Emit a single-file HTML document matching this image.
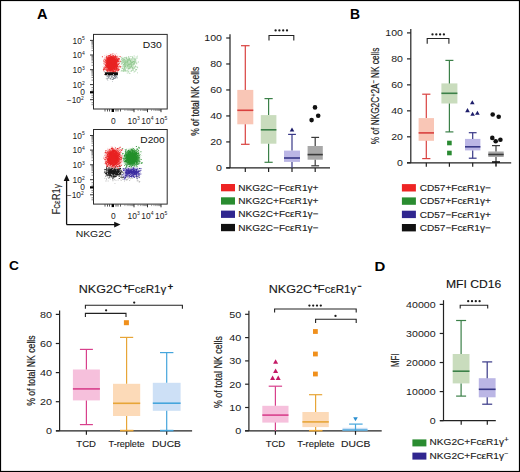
<!DOCTYPE html>
<html><head><meta charset="utf-8"><style>
html,body{margin:0;padding:0;background:#fff;}
body{width:520px;height:472px;overflow:hidden;}
svg{display:block;font-family:"Liberation Sans", sans-serif;}
</style></head><body>
<svg width="520" height="472" viewBox="0 0 520 472">
<defs><filter id="bl" x="-50%" y="-50%" width="200%" height="200%"><feGaussianBlur stdDeviation="1.3"/></filter>
<filter id="sp" x="-50%" y="-50%" width="200%" height="200%"><feTurbulence type="fractalNoise" baseFrequency="1.1" numOctaves="1" seed="3" result="n"/><feGaussianBlur in="SourceGraphic" stdDeviation="1.1" result="b"/><feDisplacementMap in="b" in2="n" scale="5" xChannelSelector="R" yChannelSelector="G"/></filter>
<filter id="sp2" x="-50%" y="-50%" width="200%" height="200%"><feTurbulence type="fractalNoise" baseFrequency="1.1" numOctaves="1" seed="5" result="n"/><feGaussianBlur in="SourceGraphic" stdDeviation="0.5" result="b"/><feDisplacementMap in="b" in2="n" scale="2" xChannelSelector="R" yChannelSelector="G"/></filter></defs>
<rect x="0" y="0" width="520" height="472" fill="#fff"/>
<text x="37.03" y="19.2" font-size="14.5" font-weight="bold" fill="#000" textLength="10.56" lengthAdjust="spacingAndGlyphs" >A</text>
<text x="349.99" y="19.1" font-size="14" font-weight="bold" fill="#000" textLength="10.06" lengthAdjust="spacingAndGlyphs" >B</text>
<text x="8.95" y="270.0" font-size="13.3" font-weight="bold" fill="#000" textLength="9.92" lengthAdjust="spacingAndGlyphs" >C</text>
<text x="374.43" y="270.5" font-size="13.5" font-weight="bold" fill="#000" textLength="10.80" lengthAdjust="spacingAndGlyphs" >D</text>
<g filter="url(#sp)">
<rect x="105" y="55.0" width="13.8" height="17.2" rx="6" fill="#e82222"/>
<rect x="123" y="59" width="11.5" height="10" rx="4" fill="#b5dcb0" opacity="0.7"/>
</g>
<path d="M127.2 59.2h0.9v0.9h-0.9zM129.3 64.4h0.9v0.9h-0.9zM121.7 58.4h0.9v0.9h-0.9zM128.1 59.7h0.9v0.9h-0.9zM132.2 62.1h0.9v0.9h-0.9zM138.0 61.6h0.9v0.9h-0.9zM124.3 69.0h0.9v0.9h-0.9zM123.0 61.5h0.9v0.9h-0.9zM130.0 60.0h0.9v0.9h-0.9zM130.9 65.6h0.9v0.9h-0.9zM127.8 68.5h0.9v0.9h-0.9zM124.1 68.7h0.9v0.9h-0.9zM131.8 61.4h0.9v0.9h-0.9zM127.8 63.3h0.9v0.9h-0.9zM121.3 63.5h0.9v0.9h-0.9zM134.0 66.7h0.9v0.9h-0.9zM128.4 70.7h0.9v0.9h-0.9zM128.4 66.5h0.9v0.9h-0.9zM133.1 60.9h0.9v0.9h-0.9zM127.2 63.3h0.9v0.9h-0.9zM124.3 68.0h0.9v0.9h-0.9zM123.5 70.2h0.9v0.9h-0.9zM121.5 69.8h0.9v0.9h-0.9zM134.3 62.2h0.9v0.9h-0.9zM128.8 57.4h0.9v0.9h-0.9zM124.2 64.5h0.9v0.9h-0.9zM130.3 63.0h0.9v0.9h-0.9zM124.8 65.7h0.9v0.9h-0.9zM128.1 56.7h0.9v0.9h-0.9zM135.4 66.2h0.9v0.9h-0.9zM127.0 66.2h0.9v0.9h-0.9zM123.1 59.6h0.9v0.9h-0.9zM126.6 59.1h0.9v0.9h-0.9zM122.9 69.4h0.9v0.9h-0.9zM131.2 62.5h0.9v0.9h-0.9zM128.4 72.3h0.9v0.9h-0.9zM128.1 58.5h0.9v0.9h-0.9zM126.5 61.1h0.9v0.9h-0.9zM123.0 58.7h0.9v0.9h-0.9zM130.9 70.9h0.9v0.9h-0.9zM134.2 61.4h0.9v0.9h-0.9zM124.2 66.7h0.9v0.9h-0.9zM126.8 72.6h0.9v0.9h-0.9zM134.9 65.6h0.9v0.9h-0.9zM124.0 57.3h0.9v0.9h-0.9zM121.8 67.5h0.9v0.9h-0.9zM133.6 71.6h0.9v0.9h-0.9zM135.4 60.7h0.9v0.9h-0.9zM124.8 70.9h0.9v0.9h-0.9zM132.7 68.4h0.9v0.9h-0.9zM121.6 66.1h0.9v0.9h-0.9zM132.1 68.1h0.9v0.9h-0.9zM127.3 60.0h0.9v0.9h-0.9zM129.0 58.9h0.9v0.9h-0.9zM124.7 70.1h0.9v0.9h-0.9zM125.0 63.7h0.9v0.9h-0.9zM126.3 57.0h0.9v0.9h-0.9zM135.3 69.1h0.9v0.9h-0.9zM129.3 58.6h0.9v0.9h-0.9zM125.1 65.9h0.9v0.9h-0.9zM124.9 70.0h0.9v0.9h-0.9zM125.5 70.0h0.9v0.9h-0.9zM128.8 63.9h0.9v0.9h-0.9zM130.4 59.7h0.9v0.9h-0.9zM121.7 63.0h0.9v0.9h-0.9zM131.5 63.9h0.9v0.9h-0.9zM129.9 64.4h0.9v0.9h-0.9zM124.9 65.8h0.9v0.9h-0.9zM130.1 61.0h0.9v0.9h-0.9zM129.5 66.7h0.9v0.9h-0.9zM127.2 69.9h0.9v0.9h-0.9zM133.7 59.0h0.9v0.9h-0.9zM131.7 58.3h0.9v0.9h-0.9zM123.0 60.5h0.9v0.9h-0.9zM121.7 68.0h0.9v0.9h-0.9zM123.5 57.6h0.9v0.9h-0.9zM135.4 70.2h0.9v0.9h-0.9zM124.5 68.9h0.9v0.9h-0.9zM122.8 62.2h0.9v0.9h-0.9zM123.8 58.7h0.9v0.9h-0.9zM129.6 61.7h0.9v0.9h-0.9zM130.5 70.8h0.9v0.9h-0.9zM133.8 60.6h0.9v0.9h-0.9zM122.2 58.0h0.9v0.9h-0.9zM129.4 59.6h0.9v0.9h-0.9zM124.9 66.2h0.9v0.9h-0.9zM124.3 63.5h0.9v0.9h-0.9zM123.9 67.7h0.9v0.9h-0.9zM123.0 68.8h0.9v0.9h-0.9zM127.6 71.0h0.9v0.9h-0.9zM126.4 61.2h0.9v0.9h-0.9zM123.3 60.1h0.9v0.9h-0.9zM125.6 62.6h0.9v0.9h-0.9zM129.4 58.1h0.9v0.9h-0.9zM126.9 64.9h0.9v0.9h-0.9zM122.0 58.9h0.9v0.9h-0.9zM132.7 69.2h0.9v0.9h-0.9zM125.9 70.7h0.9v0.9h-0.9zM127.4 64.5h0.9v0.9h-0.9zM127.4 59.1h0.9v0.9h-0.9zM122.5 58.5h0.9v0.9h-0.9zM123.9 64.7h0.9v0.9h-0.9zM125.8 64.3h0.9v0.9h-0.9zM123.1 70.7h0.9v0.9h-0.9zM135.4 70.3h0.9v0.9h-0.9zM126.1 62.4h0.9v0.9h-0.9zM127.9 64.1h0.9v0.9h-0.9zM121.5 63.0h0.9v0.9h-0.9zM123.0 60.4h0.9v0.9h-0.9zM128.6 65.9h0.9v0.9h-0.9zM133.0 60.9h0.9v0.9h-0.9zM137.2 67.3h0.9v0.9h-0.9zM123.2 64.0h0.9v0.9h-0.9zM132.7 63.8h0.9v0.9h-0.9zM130.0 67.0h0.9v0.9h-0.9zM131.4 65.8h0.9v0.9h-0.9zM125.5 62.2h0.9v0.9h-0.9zM123.7 64.7h0.9v0.9h-0.9zM130.4 56.0h0.9v0.9h-0.9zM133.5 63.3h0.9v0.9h-0.9zM132.9 61.2h0.9v0.9h-0.9zM122.5 61.5h0.9v0.9h-0.9zM133.8 62.2h0.9v0.9h-0.9zM128.0 64.1h0.9v0.9h-0.9zM131.6 60.8h0.9v0.9h-0.9zM132.2 58.4h0.9v0.9h-0.9zM122.2 68.2h0.9v0.9h-0.9zM131.3 64.7h0.9v0.9h-0.9zM130.1 61.2h0.9v0.9h-0.9zM136.3 63.4h0.9v0.9h-0.9zM134.9 60.5h0.9v0.9h-0.9zM125.3 64.9h0.9v0.9h-0.9zM121.2 58.5h0.9v0.9h-0.9zM131.7 66.7h0.9v0.9h-0.9zM125.9 56.7h0.9v0.9h-0.9zM120.5 61.3h0.9v0.9h-0.9zM123.1 69.5h0.9v0.9h-0.9zM121.5 56.8h0.9v0.9h-0.9zM134.9 59.0h0.9v0.9h-0.9zM124.2 67.5h0.9v0.9h-0.9zM126.2 58.0h0.9v0.9h-0.9zM123.4 69.4h0.9v0.9h-0.9zM125.1 60.8h0.9v0.9h-0.9zM129.1 67.8h0.9v0.9h-0.9zM133.0 63.5h0.9v0.9h-0.9zM133.8 63.8h0.9v0.9h-0.9zM132.3 57.0h0.9v0.9h-0.9zM136.2 62.6h0.9v0.9h-0.9zM125.8 57.9h0.9v0.9h-0.9zM130.9 63.7h0.9v0.9h-0.9zM124.4 70.3h0.9v0.9h-0.9zM129.4 73.1h0.9v0.9h-0.9zM128.7 58.8h0.9v0.9h-0.9zM127.3 61.0h0.9v0.9h-0.9zM131.3 61.7h0.9v0.9h-0.9zM126.7 61.6h0.9v0.9h-0.9zM122.0 61.3h0.9v0.9h-0.9zM127.7 58.6h0.9v0.9h-0.9zM125.6 64.3h0.9v0.9h-0.9zM137.0 55.7h0.9v0.9h-0.9zM121.4 61.6h0.9v0.9h-0.9zM131.3 70.0h0.9v0.9h-0.9zM135.5 58.4h0.9v0.9h-0.9zM123.8 67.6h0.9v0.9h-0.9zM135.4 66.3h0.9v0.9h-0.9zM128.1 67.9h0.9v0.9h-0.9zM126.3 60.6h0.9v0.9h-0.9zM123.4 68.2h0.9v0.9h-0.9zM124.3 65.7h0.9v0.9h-0.9zM127.5 58.5h0.9v0.9h-0.9zM123.6 66.6h0.9v0.9h-0.9zM134.0 60.6h0.9v0.9h-0.9zM135.7 56.5h0.9v0.9h-0.9zM128.5 59.7h0.9v0.9h-0.9zM132.1 57.2h0.9v0.9h-0.9zM125.2 60.5h0.9v0.9h-0.9zM133.4 58.7h0.9v0.9h-0.9zM135.3 61.9h0.9v0.9h-0.9zM124.9 69.5h0.9v0.9h-0.9zM129.2 63.5h0.9v0.9h-0.9zM132.0 62.3h0.9v0.9h-0.9zM125.2 57.6h0.9v0.9h-0.9zM120.7 70.7h0.9v0.9h-0.9zM134.8 61.6h0.9v0.9h-0.9zM125.8 56.8h0.9v0.9h-0.9zM130.8 62.3h0.9v0.9h-0.9zM124.8 61.9h0.9v0.9h-0.9zM137.7 61.7h0.9v0.9h-0.9zM127.7 61.4h0.9v0.9h-0.9zM121.3 70.0h0.9v0.9h-0.9zM123.0 59.0h0.9v0.9h-0.9zM128.3 56.0h0.9v0.9h-0.9zM124.1 61.5h0.9v0.9h-0.9zM133.4 60.3h0.9v0.9h-0.9zM135.3 66.5h0.9v0.9h-0.9zM126.2 67.7h0.9v0.9h-0.9zM133.7 55.6h0.9v0.9h-0.9zM122.5 70.7h0.9v0.9h-0.9zM127.3 65.0h0.9v0.9h-0.9zM136.2 69.0h0.9v0.9h-0.9zM134.0 60.2h0.9v0.9h-0.9zM125.2 59.4h0.9v0.9h-0.9zM124.5 57.2h0.9v0.9h-0.9zM121.2 70.4h0.9v0.9h-0.9zM135.5 58.1h0.9v0.9h-0.9zM121.4 63.3h0.9v0.9h-0.9zM123.8 67.1h0.9v0.9h-0.9zM133.6 57.5h0.9v0.9h-0.9zM133.8 63.5h0.9v0.9h-0.9zM132.8 61.2h0.9v0.9h-0.9zM124.8 60.7h0.9v0.9h-0.9zM128.6 60.2h0.9v0.9h-0.9zM131.9 55.9h0.9v0.9h-0.9zM129.4 68.1h0.9v0.9h-0.9zM122.0 60.1h0.9v0.9h-0.9zM134.1 61.1h0.9v0.9h-0.9zM133.8 68.1h0.9v0.9h-0.9zM136.7 66.5h0.9v0.9h-0.9zM124.4 60.3h0.9v0.9h-0.9zM124.1 59.0h0.9v0.9h-0.9zM121.0 60.9h0.9v0.9h-0.9zM126.7 66.4h0.9v0.9h-0.9zM123.3 65.3h0.9v0.9h-0.9zM131.6 67.1h0.9v0.9h-0.9zM127.5 71.2h0.9v0.9h-0.9zM125.3 62.4h0.9v0.9h-0.9zM135.4 59.7h0.9v0.9h-0.9zM132.5 69.7h0.9v0.9h-0.9zM128.3 68.4h0.9v0.9h-0.9zM128.5 64.9h0.9v0.9h-0.9zM131.5 65.5h0.9v0.9h-0.9zM126.5 61.0h0.9v0.9h-0.9zM129.7 63.7h0.9v0.9h-0.9zM134.2 58.6h0.9v0.9h-0.9zM136.8 57.6h0.9v0.9h-0.9zM133.7 67.1h0.9v0.9h-0.9zM134.8 61.6h0.9v0.9h-0.9zM128.6 58.0h0.9v0.9h-0.9zM123.8 63.1h0.9v0.9h-0.9zM123.4 71.2h0.9v0.9h-0.9zM120.6 56.9h0.9v0.9h-0.9zM135.1 65.6h0.9v0.9h-0.9zM130.5 66.1h0.9v0.9h-0.9zM127.3 62.2h0.9v0.9h-0.9zM121.0 59.5h0.9v0.9h-0.9zM133.2 58.4h0.9v0.9h-0.9zM129.0 63.4h0.9v0.9h-0.9zM121.8 58.0h0.9v0.9h-0.9zM132.5 68.7h0.9v0.9h-0.9zM130.3 62.7h0.9v0.9h-0.9zM137.1 72.4h0.9v0.9h-0.9zM132.7 70.1h0.9v0.9h-0.9zM131.0 58.7h0.9v0.9h-0.9zM133.7 61.8h0.9v0.9h-0.9zM134.0 62.6h0.9v0.9h-0.9zM134.5 70.8h0.9v0.9h-0.9zM124.5 62.7h0.9v0.9h-0.9zM122.3 70.6h0.9v0.9h-0.9zM132.2 67.6h0.9v0.9h-0.9zM121.8 61.8h0.9v0.9h-0.9z" fill="#5fae5f" opacity="0.55"/>
<path d="M116.3 69.9h0.9v0.9h-0.9zM107.0 61.5h0.9v0.9h-0.9zM116.1 67.9h0.9v0.9h-0.9zM109.7 56.6h0.9v0.9h-0.9zM117.3 59.6h0.9v0.9h-0.9zM115.2 66.3h0.9v0.9h-0.9zM109.1 57.2h0.9v0.9h-0.9zM112.5 71.1h0.9v0.9h-0.9zM106.3 56.3h0.9v0.9h-0.9zM103.7 61.3h0.9v0.9h-0.9zM106.3 57.5h0.9v0.9h-0.9zM113.1 71.4h0.9v0.9h-0.9zM108.0 66.3h0.9v0.9h-0.9zM117.7 58.3h0.9v0.9h-0.9zM103.4 59.8h0.9v0.9h-0.9zM111.8 68.5h0.9v0.9h-0.9zM108.1 63.9h0.9v0.9h-0.9zM110.3 68.9h0.9v0.9h-0.9zM101.9 56.3h0.9v0.9h-0.9zM106.2 65.3h0.9v0.9h-0.9zM117.0 60.7h0.9v0.9h-0.9zM106.1 66.3h0.9v0.9h-0.9zM105.0 61.5h0.9v0.9h-0.9zM114.8 56.6h0.9v0.9h-0.9zM108.5 68.2h0.9v0.9h-0.9zM115.7 58.0h0.9v0.9h-0.9zM111.0 64.6h0.9v0.9h-0.9zM106.5 56.4h0.9v0.9h-0.9zM118.4 58.8h0.9v0.9h-0.9zM117.1 59.8h0.9v0.9h-0.9zM117.3 71.5h0.9v0.9h-0.9zM113.3 70.7h0.9v0.9h-0.9zM112.1 68.6h0.9v0.9h-0.9zM110.6 58.8h0.9v0.9h-0.9zM107.0 70.6h0.9v0.9h-0.9zM106.7 71.3h0.9v0.9h-0.9zM109.5 55.4h0.9v0.9h-0.9zM113.7 66.6h0.9v0.9h-0.9zM104.2 68.7h0.9v0.9h-0.9zM117.0 69.9h0.9v0.9h-0.9zM118.6 58.0h0.9v0.9h-0.9zM107.6 69.5h0.9v0.9h-0.9zM114.5 58.4h0.9v0.9h-0.9zM106.9 59.2h0.9v0.9h-0.9zM108.8 59.2h0.9v0.9h-0.9zM108.2 59.3h0.9v0.9h-0.9zM117.0 65.6h0.9v0.9h-0.9zM103.6 69.0h0.9v0.9h-0.9zM109.0 57.2h0.9v0.9h-0.9zM118.9 58.6h0.9v0.9h-0.9zM104.5 73.7h0.9v0.9h-0.9zM102.9 68.9h0.9v0.9h-0.9zM105.9 69.5h0.9v0.9h-0.9zM108.8 58.1h0.9v0.9h-0.9zM114.4 66.0h0.9v0.9h-0.9zM105.6 67.2h0.9v0.9h-0.9zM113.1 62.4h0.9v0.9h-0.9zM119.6 56.0h0.9v0.9h-0.9zM107.0 65.7h0.9v0.9h-0.9zM110.4 62.3h0.9v0.9h-0.9zM112.3 64.5h0.9v0.9h-0.9zM109.1 70.2h0.9v0.9h-0.9zM114.2 61.8h0.9v0.9h-0.9zM115.5 62.6h0.9v0.9h-0.9zM117.8 60.6h0.9v0.9h-0.9zM115.2 56.8h0.9v0.9h-0.9zM107.3 58.5h0.9v0.9h-0.9zM110.1 70.1h0.9v0.9h-0.9zM106.0 61.3h0.9v0.9h-0.9zM119.7 60.8h0.9v0.9h-0.9zM106.7 57.9h0.9v0.9h-0.9zM111.0 69.0h0.9v0.9h-0.9zM113.3 62.8h0.9v0.9h-0.9zM105.4 67.2h0.9v0.9h-0.9zM116.9 68.5h0.9v0.9h-0.9zM110.7 71.9h0.9v0.9h-0.9zM115.4 64.9h0.9v0.9h-0.9zM113.1 66.1h0.9v0.9h-0.9zM104.0 68.2h0.9v0.9h-0.9zM113.8 63.7h0.9v0.9h-0.9zM112.4 72.1h0.9v0.9h-0.9zM105.9 60.1h0.9v0.9h-0.9zM111.9 64.2h0.9v0.9h-0.9zM107.0 61.5h0.9v0.9h-0.9zM104.5 66.8h0.9v0.9h-0.9zM110.7 62.4h0.9v0.9h-0.9zM111.0 66.6h0.9v0.9h-0.9zM110.1 71.7h0.9v0.9h-0.9zM110.3 62.0h0.9v0.9h-0.9zM103.3 67.6h0.9v0.9h-0.9zM109.4 68.6h0.9v0.9h-0.9zM117.9 68.8h0.9v0.9h-0.9zM110.2 69.0h0.9v0.9h-0.9zM115.8 63.8h0.9v0.9h-0.9zM108.4 65.8h0.9v0.9h-0.9zM117.1 58.8h0.9v0.9h-0.9zM113.8 62.2h0.9v0.9h-0.9zM117.1 60.0h0.9v0.9h-0.9zM110.6 67.6h0.9v0.9h-0.9zM108.4 64.0h0.9v0.9h-0.9zM109.7 59.9h0.9v0.9h-0.9zM118.6 69.1h0.9v0.9h-0.9zM118.2 68.9h0.9v0.9h-0.9zM114.0 71.6h0.9v0.9h-0.9zM114.2 57.5h0.9v0.9h-0.9zM107.8 56.3h0.9v0.9h-0.9zM118.2 70.0h0.9v0.9h-0.9zM113.7 69.1h0.9v0.9h-0.9zM116.6 66.4h0.9v0.9h-0.9zM112.2 69.3h0.9v0.9h-0.9zM112.5 57.7h0.9v0.9h-0.9zM112.7 57.5h0.9v0.9h-0.9zM110.4 70.0h0.9v0.9h-0.9zM104.7 63.7h0.9v0.9h-0.9zM114.8 61.2h0.9v0.9h-0.9zM120.2 66.6h0.9v0.9h-0.9zM103.3 70.3h0.9v0.9h-0.9zM110.3 63.1h0.9v0.9h-0.9zM119.5 66.1h0.9v0.9h-0.9zM109.9 62.3h0.9v0.9h-0.9z" fill="#e82222" opacity="1.0"/>
<path d="M111.9 75.8h0.7v0.7h-0.7zM109.1 75.3h0.7v0.7h-0.7zM114.2 76.3h0.7v0.7h-0.7zM112.9 77.9h0.7v0.7h-0.7zM109.3 77.8h0.7v0.7h-0.7zM113.0 77.5h0.7v0.7h-0.7zM115.5 75.8h0.7v0.7h-0.7zM106.8 79.1h0.7v0.7h-0.7zM113.7 75.3h0.7v0.7h-0.7zM111.8 76.2h0.7v0.7h-0.7zM113.8 77.9h0.7v0.7h-0.7zM114.8 75.0h0.7v0.7h-0.7zM115.6 75.5h0.7v0.7h-0.7zM115.3 74.5h0.7v0.7h-0.7zM108.6 76.8h0.7v0.7h-0.7zM113.3 76.9h0.7v0.7h-0.7zM107.6 78.2h0.7v0.7h-0.7zM116.0 76.3h0.7v0.7h-0.7zM114.9 75.7h0.7v0.7h-0.7zM111.6 76.2h0.7v0.7h-0.7zM107.8 77.6h0.7v0.7h-0.7zM107.7 78.3h0.7v0.7h-0.7zM108.8 75.8h0.7v0.7h-0.7zM114.2 78.2h0.7v0.7h-0.7zM114.7 73.7h0.7v0.7h-0.7zM112.7 77.7h0.7v0.7h-0.7zM110.2 74.2h0.7v0.7h-0.7zM105.2 73.5h0.7v0.7h-0.7zM109.4 77.8h0.7v0.7h-0.7zM112.2 77.4h0.7v0.7h-0.7zM110.6 77.6h0.7v0.7h-0.7zM109.2 75.4h0.7v0.7h-0.7zM110.7 75.9h0.7v0.7h-0.7zM112.2 79.2h0.7v0.7h-0.7zM114.1 76.5h0.7v0.7h-0.7zM117.3 74.8h0.7v0.7h-0.7zM111.4 77.0h0.7v0.7h-0.7zM113.9 74.8h0.7v0.7h-0.7zM105.9 78.1h0.7v0.7h-0.7zM115.2 78.1h0.7v0.7h-0.7zM115.7 74.9h0.7v0.7h-0.7zM115.8 77.3h0.7v0.7h-0.7zM110.8 78.7h0.7v0.7h-0.7zM108.2 73.5h0.7v0.7h-0.7zM112.2 74.5h0.7v0.7h-0.7zM108.8 75.0h0.7v0.7h-0.7zM107.5 74.1h0.7v0.7h-0.7zM113.9 75.7h0.7v0.7h-0.7zM110.7 75.1h0.7v0.7h-0.7zM107.7 76.2h0.7v0.7h-0.7zM109.9 74.6h0.7v0.7h-0.7zM116.7 77.7h0.7v0.7h-0.7zM115.3 77.1h0.7v0.7h-0.7zM111.9 79.0h0.7v0.7h-0.7zM114.4 75.8h0.7v0.7h-0.7zM112.6 78.9h0.7v0.7h-0.7zM115.7 74.5h0.7v0.7h-0.7zM108.4 75.1h0.7v0.7h-0.7zM112.8 78.0h0.7v0.7h-0.7zM117.1 76.8h0.7v0.7h-0.7zM108.0 76.9h0.7v0.7h-0.7zM114.3 75.9h0.7v0.7h-0.7zM112.2 80.9h0.7v0.7h-0.7zM109.1 76.3h0.7v0.7h-0.7zM117.3 73.7h0.7v0.7h-0.7zM114.3 77.7h0.7v0.7h-0.7zM107.5 79.9h0.7v0.7h-0.7zM113.1 79.1h0.7v0.7h-0.7zM106.8 75.7h0.7v0.7h-0.7zM111.6 75.7h0.7v0.7h-0.7zM114.9 75.5h0.7v0.7h-0.7zM107.0 78.4h0.7v0.7h-0.7zM115.9 76.2h0.7v0.7h-0.7zM108.6 76.6h0.7v0.7h-0.7zM110.1 78.1h0.7v0.7h-0.7zM113.3 75.3h0.7v0.7h-0.7zM113.4 78.3h0.7v0.7h-0.7zM108.5 76.0h0.7v0.7h-0.7zM115.0 77.2h0.7v0.7h-0.7zM109.9 78.7h0.7v0.7h-0.7zM107.7 74.6h0.7v0.7h-0.7zM111.1 76.1h0.7v0.7h-0.7zM113.2 78.5h0.7v0.7h-0.7zM106.6 76.6h0.7v0.7h-0.7zM113.3 77.0h0.7v0.7h-0.7zM114.6 74.9h0.7v0.7h-0.7zM114.6 76.4h0.7v0.7h-0.7zM116.3 76.3h0.7v0.7h-0.7zM108.2 74.0h0.7v0.7h-0.7zM107.9 77.4h0.7v0.7h-0.7z" fill="#1a2a3a" opacity="0.6"/>
<g filter="url(#sp2)"><rect x="104.5" y="72.2" width="13.5" height="3.0" rx="1" fill="#0a0a0a"/></g>
<rect x="93.5" y="34.4" width="73.69999999999999" height="74.6" fill="none" stroke="#2a2a2a" stroke-width="1.0"/>
<line x1="90.0" y1="40.4" x2="93.5" y2="40.4" stroke="#333" stroke-width="1.0"/>
<text x="72.6" y="43.5" font-size="8.4" fill="#222">10<tspan dy="-3.2" font-size="5">5</tspan></text>
<line x1="90.0" y1="55.0" x2="93.5" y2="55.0" stroke="#333" stroke-width="1.0"/>
<text x="72.6" y="58.099999999999994" font-size="8.4" fill="#222">10<tspan dy="-3.2" font-size="5">4</tspan></text>
<line x1="90.0" y1="69.69999999999999" x2="93.5" y2="69.69999999999999" stroke="#333" stroke-width="1.0"/>
<text x="72.6" y="72.69999999999999" font-size="8.4" fill="#222">10<tspan dy="-3.2" font-size="5">3</tspan></text>
<line x1="90.0" y1="84.6" x2="93.5" y2="84.6" stroke="#333" stroke-width="1.0"/>
<text x="72.6" y="87.8" font-size="8.4" fill="#222">10<tspan dy="-3.2" font-size="5">2</tspan></text>
<line x1="90.0" y1="92.3" x2="93.5" y2="92.3" stroke="#333" stroke-width="1.0"/>
<text x="85.0" y="94.8" font-size="8.4" text-anchor="end" font-weight="normal" fill="#222" >0</text>
<line x1="90.0" y1="99.69999999999999" x2="93.5" y2="99.69999999999999" stroke="#333" stroke-width="1.0"/>
<text x="66.8" y="103.1" font-size="8.4" fill="#222">−10<tspan dy="-3.2" font-size="5">2</tspan></text>
<line x1="91.5" y1="50.60496206330588" x2="93.5" y2="50.60496206330588" stroke="#555" stroke-width="0.7"/>
<line x1="91.5" y1="48.03402968109293" x2="93.5" y2="48.03402968109293" stroke="#555" stroke-width="0.7"/>
<line x1="91.5" y1="46.209924126611746" x2="93.5" y2="46.209924126611746" stroke="#555" stroke-width="0.7"/>
<line x1="91.5" y1="44.79503793669412" x2="93.5" y2="44.79503793669412" stroke="#555" stroke-width="0.7"/>
<line x1="91.5" y1="43.6389917443988" x2="93.5" y2="43.6389917443988" stroke="#555" stroke-width="0.7"/>
<line x1="91.5" y1="42.66156861579185" x2="93.5" y2="42.66156861579185" stroke="#555" stroke-width="0.7"/>
<line x1="91.5" y1="41.81488618991762" x2="93.5" y2="41.81488618991762" stroke="#555" stroke-width="0.7"/>
<line x1="91.5" y1="41.068059362185856" x2="93.5" y2="41.068059362185856" stroke="#555" stroke-width="0.7"/>
<line x1="91.5" y1="65.27485906373947" x2="93.5" y2="65.27485906373947" stroke="#555" stroke-width="0.7"/>
<line x1="91.5" y1="62.68631755562096" x2="93.5" y2="62.68631755562096" stroke="#555" stroke-width="0.7"/>
<line x1="91.5" y1="60.84971812747895" x2="93.5" y2="60.84971812747895" stroke="#555" stroke-width="0.7"/>
<line x1="91.5" y1="59.42514093626052" x2="93.5" y2="59.42514093626052" stroke="#555" stroke-width="0.7"/>
<line x1="91.5" y1="58.261176619360434" x2="93.5" y2="58.261176619360434" stroke="#555" stroke-width="0.7"/>
<line x1="91.5" y1="57.277058811790425" x2="93.5" y2="57.277058811790425" stroke="#555" stroke-width="0.7"/>
<line x1="91.5" y1="56.42457719121843" x2="93.5" y2="56.42457719121843" stroke="#555" stroke-width="0.7"/>
<line x1="91.5" y1="55.672635111241924" x2="93.5" y2="55.672635111241924" stroke="#555" stroke-width="0.7"/>
<line x1="91.5" y1="80.11465306460667" x2="93.5" y2="80.11465306460667" stroke="#555" stroke-width="0.7"/>
<line x1="91.5" y1="77.49089330467702" x2="93.5" y2="77.49089330467702" stroke="#555" stroke-width="0.7"/>
<line x1="91.5" y1="75.62930612921335" x2="93.5" y2="75.62930612921335" stroke="#555" stroke-width="0.7"/>
<line x1="91.5" y1="74.18534693539331" x2="93.5" y2="74.18534693539331" stroke="#555" stroke-width="0.7"/>
<line x1="91.5" y1="73.0055463692837" x2="93.5" y2="73.0055463692837" stroke="#555" stroke-width="0.7"/>
<line x1="91.5" y1="72.00803920378756" x2="93.5" y2="72.00803920378756" stroke="#555" stroke-width="0.7"/>
<line x1="91.5" y1="71.14395919382002" x2="93.5" y2="71.14395919382002" stroke="#555" stroke-width="0.7"/>
<line x1="91.5" y1="70.38178660935405" x2="93.5" y2="70.38178660935405" stroke="#555" stroke-width="0.7"/>
<line x1="90.0" y1="92.3" x2="93.5" y2="92.3" stroke="#000" stroke-width="2.2"/>
<line x1="91.5" y1="87.6" x2="93.5" y2="87.6" stroke="#555" stroke-width="0.7"/>
<line x1="91.5" y1="90.1" x2="93.5" y2="90.1" stroke="#555" stroke-width="0.7"/>
<line x1="91.5" y1="95.3" x2="93.5" y2="95.3" stroke="#555" stroke-width="0.7"/>
<line x1="91.5" y1="97.3" x2="93.5" y2="97.3" stroke="#555" stroke-width="0.7"/>
<line x1="91.5" y1="102.69999999999999" x2="93.5" y2="102.69999999999999" stroke="#555" stroke-width="0.7"/>
<line x1="91.5" y1="104.69999999999999" x2="93.5" y2="104.69999999999999" stroke="#555" stroke-width="0.7"/>
<line x1="105" y1="109.0" x2="105" y2="111.5" stroke="#444" stroke-width="0.9"/>
<line x1="107.5" y1="109.0" x2="107.5" y2="111.5" stroke="#444" stroke-width="0.9"/>
<line x1="109.5" y1="109.0" x2="109.5" y2="111.5" stroke="#444" stroke-width="0.9"/>
<line x1="116" y1="109.0" x2="116" y2="111.5" stroke="#444" stroke-width="0.9"/>
<line x1="118" y1="109.0" x2="118" y2="111.5" stroke="#444" stroke-width="0.9"/>
<line x1="120.5" y1="109.0" x2="120.5" y2="111.5" stroke="#444" stroke-width="0.9"/>
<line x1="112.8" y1="109.0" x2="112.8" y2="112.0" stroke="#000" stroke-width="2.4"/>
<line x1="124.91338994363176" y1="109.0" x2="124.91338994363176" y2="111.0" stroke="#666" stroke-width="0.6"/>
<line x1="127.20257631135561" y1="109.0" x2="127.20257631135561" y2="111.0" stroke="#666" stroke-width="0.6"/>
<line x1="128.8267798872635" y1="109.0" x2="128.8267798872635" y2="111.0" stroke="#666" stroke-width="0.6"/>
<line x1="130.08661005636824" y1="109.0" x2="130.08661005636824" y2="111.0" stroke="#666" stroke-width="0.6"/>
<line x1="131.11596625498737" y1="109.0" x2="131.11596625498737" y2="111.0" stroke="#666" stroke-width="0.6"/>
<line x1="131.98627452018533" y1="109.0" x2="131.98627452018533" y2="111.0" stroke="#666" stroke-width="0.6"/>
<line x1="132.74016983089527" y1="109.0" x2="132.74016983089527" y2="111.0" stroke="#666" stroke-width="0.6"/>
<line x1="133.40515262271123" y1="109.0" x2="133.40515262271123" y2="111.0" stroke="#666" stroke-width="0.6"/>
<line x1="138.06390494146373" y1="109.0" x2="138.06390494146373" y2="111.0" stroke="#666" stroke-width="0.6"/>
<line x1="140.44113693871543" y1="109.0" x2="140.44113693871543" y2="111.0" stroke="#666" stroke-width="0.6"/>
<line x1="142.1278098829275" y1="109.0" x2="142.1278098829275" y2="111.0" stroke="#666" stroke-width="0.6"/>
<line x1="143.43609505853627" y1="109.0" x2="143.43609505853627" y2="111.0" stroke="#666" stroke-width="0.6"/>
<line x1="144.5050418801792" y1="109.0" x2="144.5050418801792" y2="111.0" stroke="#666" stroke-width="0.6"/>
<line x1="145.40882354019246" y1="109.0" x2="145.40882354019246" y2="111.0" stroke="#666" stroke-width="0.6"/>
<line x1="146.19171482439123" y1="109.0" x2="146.19171482439123" y2="111.0" stroke="#666" stroke-width="0.6"/>
<line x1="146.8822738774309" y1="109.0" x2="146.8822738774309" y2="111.0" stroke="#666" stroke-width="0.6"/>
<line x1="151.56390494146373" y1="109.0" x2="151.56390494146373" y2="111.0" stroke="#666" stroke-width="0.6"/>
<line x1="153.94113693871543" y1="109.0" x2="153.94113693871543" y2="111.0" stroke="#666" stroke-width="0.6"/>
<line x1="155.6278098829275" y1="109.0" x2="155.6278098829275" y2="111.0" stroke="#666" stroke-width="0.6"/>
<line x1="156.93609505853627" y1="109.0" x2="156.93609505853627" y2="111.0" stroke="#666" stroke-width="0.6"/>
<line x1="158.0050418801792" y1="109.0" x2="158.0050418801792" y2="111.0" stroke="#666" stroke-width="0.6"/>
<line x1="158.90882354019246" y1="109.0" x2="158.90882354019246" y2="111.0" stroke="#666" stroke-width="0.6"/>
<line x1="159.69171482439123" y1="109.0" x2="159.69171482439123" y2="111.0" stroke="#666" stroke-width="0.6"/>
<line x1="160.3822738774309" y1="109.0" x2="160.3822738774309" y2="111.0" stroke="#666" stroke-width="0.6"/>
<line x1="134" y1="109.0" x2="134" y2="112.2" stroke="#333" stroke-width="1.0"/>
<line x1="147.5" y1="109.0" x2="147.5" y2="112.2" stroke="#333" stroke-width="1.0"/>
<line x1="161" y1="109.0" x2="161" y2="112.2" stroke="#333" stroke-width="1.0"/>
<text x="113.25" y="123.5" font-size="8.4" text-anchor="middle" font-weight="normal" fill="#222" >0</text>
<text x="127.55" y="123.5" font-size="8.4" fill="#222">10<tspan dy="-3.2" font-size="5">3</tspan></text>
<text x="141.3" y="123.5" font-size="8.4" fill="#222">10<tspan dy="-3.2" font-size="5">4</tspan></text>
<text x="155.05" y="123.5" font-size="8.4" fill="#222">10<tspan dy="-3.2" font-size="5">5</tspan></text>
<text x="142.77" y="47.9" font-size="9.8" font-weight="normal" fill="#111" textLength="18.99" lengthAdjust="spacingAndGlyphs" >D30</text>
<g filter="url(#sp)">
<rect x="106" y="149.2" width="14.5" height="17.5" rx="6" fill="#e82020"/>
<rect x="124.5" y="149.7" width="14.8" height="16" rx="6" fill="#23902a"/>
<rect x="106.5" y="168.8" width="14" height="6.5" rx="2" fill="#151515"/>
<rect x="125" y="168.8" width="13.5" height="6.5" rx="2" fill="#3a2aa0"/>
</g>
<path d="M109.5 163.0h0.9v0.9h-0.9zM117.7 148.5h0.9v0.9h-0.9zM115.6 149.5h0.9v0.9h-0.9zM117.3 166.4h0.9v0.9h-0.9zM115.1 157.2h0.9v0.9h-0.9zM119.3 164.8h0.9v0.9h-0.9zM111.2 160.2h0.9v0.9h-0.9zM103.5 157.7h0.9v0.9h-0.9zM106.1 163.0h0.9v0.9h-0.9zM109.7 161.6h0.9v0.9h-0.9zM107.3 155.6h0.9v0.9h-0.9zM112.0 147.7h0.9v0.9h-0.9zM121.1 150.2h0.9v0.9h-0.9zM108.9 149.2h0.9v0.9h-0.9zM116.4 159.7h0.9v0.9h-0.9zM112.8 149.3h0.9v0.9h-0.9zM119.2 149.7h0.9v0.9h-0.9zM112.1 149.9h0.9v0.9h-0.9zM112.3 165.7h0.9v0.9h-0.9zM105.5 150.1h0.9v0.9h-0.9zM119.5 155.5h0.9v0.9h-0.9zM117.8 166.2h0.9v0.9h-0.9zM117.3 154.8h0.9v0.9h-0.9zM113.7 165.5h0.9v0.9h-0.9zM118.5 157.6h0.9v0.9h-0.9zM121.5 155.6h0.9v0.9h-0.9zM114.4 149.8h0.9v0.9h-0.9zM111.7 150.3h0.9v0.9h-0.9zM121.4 157.8h0.9v0.9h-0.9zM119.8 146.8h0.9v0.9h-0.9zM115.3 154.5h0.9v0.9h-0.9zM115.0 151.9h0.9v0.9h-0.9zM111.1 154.2h0.9v0.9h-0.9zM109.4 159.0h0.9v0.9h-0.9zM120.0 156.8h0.9v0.9h-0.9zM113.9 150.5h0.9v0.9h-0.9zM108.8 152.8h0.9v0.9h-0.9zM104.2 159.2h0.9v0.9h-0.9zM113.8 161.2h0.9v0.9h-0.9zM111.0 156.5h0.9v0.9h-0.9zM109.8 158.5h0.9v0.9h-0.9zM110.9 154.5h0.9v0.9h-0.9zM119.2 158.6h0.9v0.9h-0.9zM110.2 162.9h0.9v0.9h-0.9zM109.0 157.1h0.9v0.9h-0.9zM104.7 162.9h0.9v0.9h-0.9zM106.8 164.8h0.9v0.9h-0.9zM106.6 161.8h0.9v0.9h-0.9zM116.1 156.4h0.9v0.9h-0.9zM117.0 155.3h0.9v0.9h-0.9zM117.3 147.9h0.9v0.9h-0.9zM121.0 159.3h0.9v0.9h-0.9zM114.2 155.6h0.9v0.9h-0.9zM118.8 154.1h0.9v0.9h-0.9zM110.6 153.8h0.9v0.9h-0.9zM110.2 153.6h0.9v0.9h-0.9zM118.6 155.4h0.9v0.9h-0.9zM107.4 159.5h0.9v0.9h-0.9zM116.3 155.2h0.9v0.9h-0.9zM120.2 149.4h0.9v0.9h-0.9zM111.9 148.4h0.9v0.9h-0.9zM111.9 163.0h0.9v0.9h-0.9zM114.9 157.8h0.9v0.9h-0.9zM115.4 160.0h0.9v0.9h-0.9zM111.9 157.5h0.9v0.9h-0.9zM105.5 159.4h0.9v0.9h-0.9zM116.1 155.5h0.9v0.9h-0.9zM109.6 152.0h0.9v0.9h-0.9zM113.8 153.3h0.9v0.9h-0.9zM121.7 148.6h0.9v0.9h-0.9zM119.0 165.6h0.9v0.9h-0.9zM119.1 153.6h0.9v0.9h-0.9zM112.6 151.1h0.9v0.9h-0.9zM114.5 166.8h0.9v0.9h-0.9zM116.3 163.5h0.9v0.9h-0.9zM109.7 153.5h0.9v0.9h-0.9zM117.5 150.7h0.9v0.9h-0.9zM112.2 160.2h0.9v0.9h-0.9zM114.8 155.7h0.9v0.9h-0.9zM107.5 151.0h0.9v0.9h-0.9zM106.8 165.0h0.9v0.9h-0.9zM115.0 147.4h0.9v0.9h-0.9zM116.9 156.0h0.9v0.9h-0.9zM107.3 166.0h0.9v0.9h-0.9zM113.8 156.1h0.9v0.9h-0.9zM106.5 165.9h0.9v0.9h-0.9zM111.4 147.9h0.9v0.9h-0.9zM120.9 164.8h0.9v0.9h-0.9zM117.9 168.0h0.9v0.9h-0.9zM113.6 155.1h0.9v0.9h-0.9zM116.9 165.9h0.9v0.9h-0.9zM112.9 150.2h0.9v0.9h-0.9zM111.6 155.8h0.9v0.9h-0.9zM115.0 156.0h0.9v0.9h-0.9zM111.8 164.2h0.9v0.9h-0.9zM110.5 153.8h0.9v0.9h-0.9zM110.0 154.6h0.9v0.9h-0.9zM107.0 152.5h0.9v0.9h-0.9zM119.4 165.0h0.9v0.9h-0.9zM118.7 162.7h0.9v0.9h-0.9zM111.6 166.3h0.9v0.9h-0.9zM113.2 151.2h0.9v0.9h-0.9zM116.4 161.4h0.9v0.9h-0.9zM110.8 153.1h0.9v0.9h-0.9zM120.2 159.2h0.9v0.9h-0.9zM109.2 159.7h0.9v0.9h-0.9zM113.8 150.1h0.9v0.9h-0.9zM108.0 160.0h0.9v0.9h-0.9zM105.5 157.1h0.9v0.9h-0.9zM110.3 152.4h0.9v0.9h-0.9zM106.5 154.8h0.9v0.9h-0.9zM120.3 162.7h0.9v0.9h-0.9zM106.7 161.3h0.9v0.9h-0.9zM115.2 161.5h0.9v0.9h-0.9zM116.4 156.5h0.9v0.9h-0.9zM115.4 166.2h0.9v0.9h-0.9zM116.9 148.0h0.9v0.9h-0.9zM107.5 155.9h0.9v0.9h-0.9zM104.6 152.4h0.9v0.9h-0.9zM117.3 151.9h0.9v0.9h-0.9zM111.5 146.7h0.9v0.9h-0.9zM118.8 147.5h0.9v0.9h-0.9zM118.8 152.2h0.9v0.9h-0.9zM106.6 165.1h0.9v0.9h-0.9zM118.6 156.2h0.9v0.9h-0.9zM117.6 148.6h0.9v0.9h-0.9zM118.5 162.4h0.9v0.9h-0.9zM117.7 155.3h0.9v0.9h-0.9zM105.1 156.7h0.9v0.9h-0.9zM121.5 149.6h0.9v0.9h-0.9zM116.7 157.7h0.9v0.9h-0.9zM120.2 151.5h0.9v0.9h-0.9zM104.9 152.3h0.9v0.9h-0.9zM110.8 162.1h0.9v0.9h-0.9zM108.6 157.6h0.9v0.9h-0.9zM119.9 165.9h0.9v0.9h-0.9zM106.1 163.5h0.9v0.9h-0.9zM113.9 160.2h0.9v0.9h-0.9zM113.0 164.5h0.9v0.9h-0.9zM106.2 152.5h0.9v0.9h-0.9zM105.4 162.2h0.9v0.9h-0.9zM112.8 157.5h0.9v0.9h-0.9zM110.9 148.1h0.9v0.9h-0.9zM121.4 161.4h0.9v0.9h-0.9zM120.7 157.1h0.9v0.9h-0.9zM112.3 148.8h0.9v0.9h-0.9zM119.3 165.1h0.9v0.9h-0.9zM115.6 151.0h0.9v0.9h-0.9zM105.3 151.5h0.9v0.9h-0.9zM106.4 164.6h0.9v0.9h-0.9z" fill="#e82020" opacity="1.0"/>
<path d="M126.4 159.9h0.9v0.9h-0.9zM129.5 155.6h0.9v0.9h-0.9zM128.5 163.1h0.9v0.9h-0.9zM128.4 160.0h0.9v0.9h-0.9zM136.7 163.4h0.9v0.9h-0.9zM131.1 153.5h0.9v0.9h-0.9zM134.5 151.8h0.9v0.9h-0.9zM131.2 148.7h0.9v0.9h-0.9zM131.3 149.5h0.9v0.9h-0.9zM138.8 154.5h0.9v0.9h-0.9zM127.3 154.8h0.9v0.9h-0.9zM127.6 163.8h0.9v0.9h-0.9zM139.2 156.9h0.9v0.9h-0.9zM132.5 150.1h0.9v0.9h-0.9zM126.1 165.5h0.9v0.9h-0.9zM140.7 159.1h0.9v0.9h-0.9zM138.6 159.8h0.9v0.9h-0.9zM126.0 155.8h0.9v0.9h-0.9zM134.0 165.2h0.9v0.9h-0.9zM124.1 157.7h0.9v0.9h-0.9zM124.0 157.9h0.9v0.9h-0.9zM129.0 155.1h0.9v0.9h-0.9zM125.9 160.0h0.9v0.9h-0.9zM125.5 149.2h0.9v0.9h-0.9zM132.3 159.4h0.9v0.9h-0.9zM126.5 157.3h0.9v0.9h-0.9zM134.2 149.9h0.9v0.9h-0.9zM131.5 160.3h0.9v0.9h-0.9zM138.5 163.4h0.9v0.9h-0.9zM125.3 150.3h0.9v0.9h-0.9zM138.2 149.9h0.9v0.9h-0.9zM137.3 155.1h0.9v0.9h-0.9zM122.7 153.2h0.9v0.9h-0.9zM133.5 160.4h0.9v0.9h-0.9zM136.2 163.2h0.9v0.9h-0.9zM125.9 161.2h0.9v0.9h-0.9zM135.1 154.4h0.9v0.9h-0.9zM137.4 148.3h0.9v0.9h-0.9zM134.6 163.6h0.9v0.9h-0.9zM126.3 152.0h0.9v0.9h-0.9zM124.6 159.4h0.9v0.9h-0.9zM125.5 162.9h0.9v0.9h-0.9zM125.5 160.4h0.9v0.9h-0.9zM130.9 159.6h0.9v0.9h-0.9zM135.9 146.0h0.9v0.9h-0.9zM129.7 165.1h0.9v0.9h-0.9zM137.6 163.3h0.9v0.9h-0.9zM134.0 151.6h0.9v0.9h-0.9zM136.2 160.6h0.9v0.9h-0.9zM124.0 165.2h0.9v0.9h-0.9zM133.9 154.8h0.9v0.9h-0.9zM130.3 154.1h0.9v0.9h-0.9zM122.3 147.9h0.9v0.9h-0.9zM131.3 150.7h0.9v0.9h-0.9zM134.6 158.0h0.9v0.9h-0.9zM126.5 165.2h0.9v0.9h-0.9zM141.6 162.5h0.9v0.9h-0.9zM138.5 158.3h0.9v0.9h-0.9zM129.0 165.9h0.9v0.9h-0.9zM139.1 161.3h0.9v0.9h-0.9zM134.5 154.4h0.9v0.9h-0.9zM132.3 154.4h0.9v0.9h-0.9zM129.8 154.7h0.9v0.9h-0.9zM127.3 151.4h0.9v0.9h-0.9zM123.9 155.4h0.9v0.9h-0.9zM132.8 149.8h0.9v0.9h-0.9zM127.7 159.7h0.9v0.9h-0.9zM138.2 160.7h0.9v0.9h-0.9zM125.0 167.5h0.9v0.9h-0.9zM129.4 163.0h0.9v0.9h-0.9zM122.1 153.3h0.9v0.9h-0.9zM128.1 153.0h0.9v0.9h-0.9zM135.5 152.7h0.9v0.9h-0.9zM134.5 150.5h0.9v0.9h-0.9zM137.2 149.2h0.9v0.9h-0.9zM137.8 149.9h0.9v0.9h-0.9zM124.3 159.4h0.9v0.9h-0.9zM139.4 162.7h0.9v0.9h-0.9zM133.1 155.1h0.9v0.9h-0.9zM123.7 159.7h0.9v0.9h-0.9zM127.5 152.8h0.9v0.9h-0.9zM133.4 158.6h0.9v0.9h-0.9zM141.6 161.9h0.9v0.9h-0.9zM129.2 151.0h0.9v0.9h-0.9zM138.0 156.8h0.9v0.9h-0.9zM131.3 159.5h0.9v0.9h-0.9zM132.7 154.2h0.9v0.9h-0.9zM135.6 152.0h0.9v0.9h-0.9zM137.6 153.0h0.9v0.9h-0.9zM132.7 148.0h0.9v0.9h-0.9zM130.4 153.3h0.9v0.9h-0.9zM140.5 151.3h0.9v0.9h-0.9zM123.7 157.5h0.9v0.9h-0.9zM133.7 156.9h0.9v0.9h-0.9zM126.3 166.5h0.9v0.9h-0.9zM127.5 152.8h0.9v0.9h-0.9zM138.8 154.4h0.9v0.9h-0.9zM136.2 164.9h0.9v0.9h-0.9zM124.8 159.6h0.9v0.9h-0.9zM130.3 158.2h0.9v0.9h-0.9zM132.3 158.4h0.9v0.9h-0.9zM126.9 156.8h0.9v0.9h-0.9zM127.5 161.5h0.9v0.9h-0.9zM128.9 158.5h0.9v0.9h-0.9zM127.1 151.4h0.9v0.9h-0.9zM136.5 153.4h0.9v0.9h-0.9zM132.0 160.3h0.9v0.9h-0.9zM132.2 164.7h0.9v0.9h-0.9zM127.4 161.8h0.9v0.9h-0.9zM138.9 168.2h0.9v0.9h-0.9zM128.7 166.1h0.9v0.9h-0.9zM123.7 161.3h0.9v0.9h-0.9zM125.4 151.0h0.9v0.9h-0.9zM130.3 163.5h0.9v0.9h-0.9zM140.9 162.8h0.9v0.9h-0.9zM136.2 152.6h0.9v0.9h-0.9zM130.7 166.5h0.9v0.9h-0.9zM128.9 156.7h0.9v0.9h-0.9zM124.8 161.0h0.9v0.9h-0.9zM125.5 148.9h0.9v0.9h-0.9zM126.9 154.5h0.9v0.9h-0.9zM128.8 161.1h0.9v0.9h-0.9zM128.1 150.0h0.9v0.9h-0.9zM122.7 158.2h0.9v0.9h-0.9zM130.9 160.2h0.9v0.9h-0.9zM131.1 165.7h0.9v0.9h-0.9zM138.1 152.9h0.9v0.9h-0.9zM131.3 155.0h0.9v0.9h-0.9zM132.4 150.9h0.9v0.9h-0.9zM134.3 159.0h0.9v0.9h-0.9zM129.6 150.8h0.9v0.9h-0.9zM138.2 146.8h0.9v0.9h-0.9zM134.5 159.4h0.9v0.9h-0.9zM128.6 161.8h0.9v0.9h-0.9zM136.6 166.3h0.9v0.9h-0.9zM126.0 153.8h0.9v0.9h-0.9zM134.5 160.1h0.9v0.9h-0.9zM134.2 159.3h0.9v0.9h-0.9zM126.3 164.3h0.9v0.9h-0.9zM131.1 155.6h0.9v0.9h-0.9zM128.3 159.6h0.9v0.9h-0.9zM130.4 152.1h0.9v0.9h-0.9zM126.5 158.9h0.9v0.9h-0.9zM139.1 147.6h0.9v0.9h-0.9zM130.6 148.7h0.9v0.9h-0.9zM125.7 155.1h0.9v0.9h-0.9zM136.0 149.5h0.9v0.9h-0.9zM131.5 156.3h0.9v0.9h-0.9zM131.9 149.2h0.9v0.9h-0.9zM134.1 153.3h0.9v0.9h-0.9z" fill="#23902a" opacity="1.0"/>
<path d="M110.5 169.2h0.9v0.9h-0.9zM107.9 169.4h0.9v0.9h-0.9zM116.7 171.2h0.9v0.9h-0.9zM120.2 176.7h0.9v0.9h-0.9zM106.4 174.5h0.9v0.9h-0.9zM112.4 171.7h0.9v0.9h-0.9zM116.4 175.0h0.9v0.9h-0.9zM117.7 174.2h0.9v0.9h-0.9zM121.4 177.4h0.9v0.9h-0.9zM110.6 167.7h0.9v0.9h-0.9zM116.4 173.5h0.9v0.9h-0.9zM119.9 173.1h0.9v0.9h-0.9zM110.4 172.3h0.9v0.9h-0.9zM113.8 171.6h0.9v0.9h-0.9zM114.3 173.1h0.9v0.9h-0.9zM113.4 173.4h0.9v0.9h-0.9zM117.8 169.4h0.9v0.9h-0.9zM106.5 168.3h0.9v0.9h-0.9zM117.1 174.0h0.9v0.9h-0.9zM116.3 174.3h0.9v0.9h-0.9zM108.2 173.2h0.9v0.9h-0.9zM120.0 173.5h0.9v0.9h-0.9zM106.1 170.3h0.9v0.9h-0.9zM110.1 175.4h0.9v0.9h-0.9zM113.1 170.9h0.9v0.9h-0.9zM120.1 168.1h0.9v0.9h-0.9zM109.7 171.8h0.9v0.9h-0.9zM111.1 171.4h0.9v0.9h-0.9zM119.1 175.6h0.9v0.9h-0.9zM105.3 173.0h0.9v0.9h-0.9zM113.9 176.0h0.9v0.9h-0.9zM109.3 171.2h0.9v0.9h-0.9zM113.7 175.4h0.9v0.9h-0.9zM104.4 169.1h0.9v0.9h-0.9zM120.7 170.3h0.9v0.9h-0.9zM118.2 171.7h0.9v0.9h-0.9zM115.7 169.0h0.9v0.9h-0.9zM120.5 172.0h0.9v0.9h-0.9zM108.4 177.7h0.9v0.9h-0.9zM111.3 175.4h0.9v0.9h-0.9zM116.5 174.6h0.9v0.9h-0.9zM106.2 169.2h0.9v0.9h-0.9zM114.0 170.8h0.9v0.9h-0.9zM119.0 171.4h0.9v0.9h-0.9zM119.4 168.1h0.9v0.9h-0.9zM110.7 172.3h0.9v0.9h-0.9zM104.7 172.3h0.9v0.9h-0.9zM117.9 170.6h0.9v0.9h-0.9zM123.1 172.7h0.9v0.9h-0.9zM108.6 174.1h0.9v0.9h-0.9zM121.5 176.5h0.9v0.9h-0.9zM114.4 169.1h0.9v0.9h-0.9zM111.3 168.6h0.9v0.9h-0.9zM121.8 177.0h0.9v0.9h-0.9zM112.3 167.9h0.9v0.9h-0.9zM109.6 175.0h0.9v0.9h-0.9zM108.2 167.6h0.9v0.9h-0.9zM115.5 176.0h0.9v0.9h-0.9zM114.5 172.7h0.9v0.9h-0.9zM106.2 172.7h0.9v0.9h-0.9zM109.6 170.7h0.9v0.9h-0.9zM108.8 175.2h0.9v0.9h-0.9zM118.7 168.9h0.9v0.9h-0.9zM120.5 173.8h0.9v0.9h-0.9zM106.2 173.0h0.9v0.9h-0.9zM112.8 172.2h0.9v0.9h-0.9zM109.0 176.5h0.9v0.9h-0.9zM113.4 176.4h0.9v0.9h-0.9zM113.5 172.7h0.9v0.9h-0.9zM108.8 169.7h0.9v0.9h-0.9zM104.4 171.5h0.9v0.9h-0.9zM121.1 170.9h0.9v0.9h-0.9zM115.2 166.7h0.9v0.9h-0.9zM106.3 166.4h0.9v0.9h-0.9zM114.4 169.0h0.9v0.9h-0.9zM115.7 168.7h0.9v0.9h-0.9zM119.5 169.4h0.9v0.9h-0.9zM108.9 167.6h0.9v0.9h-0.9zM111.2 170.6h0.9v0.9h-0.9zM114.5 174.5h0.9v0.9h-0.9zM110.8 176.2h0.9v0.9h-0.9zM116.9 173.0h0.9v0.9h-0.9zM119.1 173.9h0.9v0.9h-0.9zM112.4 176.7h0.9v0.9h-0.9zM118.8 178.1h0.9v0.9h-0.9zM119.9 173.0h0.9v0.9h-0.9zM112.7 175.9h0.9v0.9h-0.9zM118.4 175.7h0.9v0.9h-0.9zM123.0 177.2h0.9v0.9h-0.9zM109.6 169.0h0.9v0.9h-0.9zM112.7 177.6h0.9v0.9h-0.9zM116.0 173.9h0.9v0.9h-0.9zM116.9 172.8h0.9v0.9h-0.9zM113.2 176.4h0.9v0.9h-0.9zM108.7 173.9h0.9v0.9h-0.9zM104.9 169.0h0.9v0.9h-0.9zM117.0 172.9h0.9v0.9h-0.9zM110.8 176.7h0.9v0.9h-0.9zM115.1 170.9h0.9v0.9h-0.9zM114.9 175.9h0.9v0.9h-0.9zM106.8 175.1h0.9v0.9h-0.9zM107.6 174.3h0.9v0.9h-0.9zM110.0 175.0h0.9v0.9h-0.9zM108.5 172.6h0.9v0.9h-0.9zM122.2 171.6h0.9v0.9h-0.9zM114.4 176.5h0.9v0.9h-0.9zM112.8 170.3h0.9v0.9h-0.9zM104.4 171.8h0.9v0.9h-0.9zM113.5 172.9h0.9v0.9h-0.9zM105.3 175.7h0.9v0.9h-0.9zM110.1 169.9h0.9v0.9h-0.9zM112.5 170.1h0.9v0.9h-0.9zM111.4 175.5h0.9v0.9h-0.9zM115.1 174.3h0.9v0.9h-0.9zM119.4 166.3h0.9v0.9h-0.9zM112.3 178.3h0.9v0.9h-0.9zM106.0 167.6h0.9v0.9h-0.9zM111.4 168.8h0.9v0.9h-0.9zM117.2 173.2h0.9v0.9h-0.9zM119.9 172.3h0.9v0.9h-0.9z" fill="#151515" opacity="1.0"/>
<path d="M131.4 173.8h0.9v0.9h-0.9zM128.8 176.8h0.9v0.9h-0.9zM135.8 173.2h0.9v0.9h-0.9zM138.6 171.2h0.9v0.9h-0.9zM129.4 171.8h0.9v0.9h-0.9zM139.7 170.6h0.9v0.9h-0.9zM138.9 172.9h0.9v0.9h-0.9zM125.2 172.7h0.9v0.9h-0.9zM138.8 177.0h0.9v0.9h-0.9zM131.6 173.5h0.9v0.9h-0.9zM129.7 173.9h0.9v0.9h-0.9zM131.5 168.7h0.9v0.9h-0.9zM130.6 169.9h0.9v0.9h-0.9zM133.5 170.4h0.9v0.9h-0.9zM135.7 176.0h0.9v0.9h-0.9zM127.8 173.4h0.9v0.9h-0.9zM135.0 174.2h0.9v0.9h-0.9zM124.7 178.3h0.9v0.9h-0.9zM132.9 169.6h0.9v0.9h-0.9zM138.5 170.4h0.9v0.9h-0.9zM135.9 176.5h0.9v0.9h-0.9zM130.2 175.9h0.9v0.9h-0.9zM125.4 172.1h0.9v0.9h-0.9zM132.6 171.8h0.9v0.9h-0.9zM129.1 175.2h0.9v0.9h-0.9zM136.5 173.5h0.9v0.9h-0.9zM133.0 176.1h0.9v0.9h-0.9zM136.1 174.3h0.9v0.9h-0.9zM125.1 171.7h0.9v0.9h-0.9zM129.4 176.1h0.9v0.9h-0.9zM128.1 169.7h0.9v0.9h-0.9zM136.4 170.9h0.9v0.9h-0.9zM136.8 171.9h0.9v0.9h-0.9zM123.1 170.0h0.9v0.9h-0.9zM123.0 175.8h0.9v0.9h-0.9zM124.4 169.5h0.9v0.9h-0.9zM133.0 174.0h0.9v0.9h-0.9zM127.2 174.8h0.9v0.9h-0.9zM136.1 174.9h0.9v0.9h-0.9zM122.7 168.5h0.9v0.9h-0.9zM133.3 170.0h0.9v0.9h-0.9zM131.0 175.4h0.9v0.9h-0.9zM140.5 168.1h0.9v0.9h-0.9zM140.5 169.8h0.9v0.9h-0.9zM130.0 170.4h0.9v0.9h-0.9zM129.4 171.7h0.9v0.9h-0.9zM126.5 170.5h0.9v0.9h-0.9zM126.4 169.6h0.9v0.9h-0.9zM131.5 171.7h0.9v0.9h-0.9zM140.4 173.5h0.9v0.9h-0.9zM124.6 176.0h0.9v0.9h-0.9zM134.4 170.5h0.9v0.9h-0.9zM123.6 168.0h0.9v0.9h-0.9zM124.7 177.1h0.9v0.9h-0.9zM135.8 169.1h0.9v0.9h-0.9zM126.2 175.6h0.9v0.9h-0.9zM138.5 174.1h0.9v0.9h-0.9zM126.8 173.5h0.9v0.9h-0.9zM126.8 176.4h0.9v0.9h-0.9zM138.0 170.8h0.9v0.9h-0.9zM133.6 177.0h0.9v0.9h-0.9zM126.5 173.3h0.9v0.9h-0.9zM131.8 175.2h0.9v0.9h-0.9zM133.3 173.5h0.9v0.9h-0.9zM123.9 177.5h0.9v0.9h-0.9zM130.7 169.6h0.9v0.9h-0.9zM137.6 173.7h0.9v0.9h-0.9zM125.9 174.5h0.9v0.9h-0.9zM133.3 167.4h0.9v0.9h-0.9zM136.4 172.1h0.9v0.9h-0.9zM134.1 173.0h0.9v0.9h-0.9zM133.9 176.3h0.9v0.9h-0.9zM133.9 177.2h0.9v0.9h-0.9zM125.5 176.7h0.9v0.9h-0.9zM133.6 168.5h0.9v0.9h-0.9zM139.2 168.1h0.9v0.9h-0.9zM128.1 173.7h0.9v0.9h-0.9zM136.7 168.3h0.9v0.9h-0.9zM128.0 169.2h0.9v0.9h-0.9zM138.9 174.5h0.9v0.9h-0.9zM125.5 175.0h0.9v0.9h-0.9zM137.8 175.6h0.9v0.9h-0.9zM133.0 172.3h0.9v0.9h-0.9zM133.2 168.0h0.9v0.9h-0.9zM131.9 169.2h0.9v0.9h-0.9zM137.7 175.6h0.9v0.9h-0.9zM132.1 171.1h0.9v0.9h-0.9zM132.9 175.0h0.9v0.9h-0.9zM130.8 176.7h0.9v0.9h-0.9zM138.0 171.4h0.9v0.9h-0.9zM136.7 178.1h0.9v0.9h-0.9zM136.3 169.0h0.9v0.9h-0.9zM133.4 171.3h0.9v0.9h-0.9zM128.7 175.1h0.9v0.9h-0.9zM136.0 173.0h0.9v0.9h-0.9zM136.7 176.0h0.9v0.9h-0.9zM130.9 176.0h0.9v0.9h-0.9zM130.3 169.8h0.9v0.9h-0.9zM128.8 172.5h0.9v0.9h-0.9zM137.6 172.6h0.9v0.9h-0.9zM138.9 170.4h0.9v0.9h-0.9zM127.3 170.2h0.9v0.9h-0.9zM138.6 174.4h0.9v0.9h-0.9zM137.5 171.4h0.9v0.9h-0.9zM125.7 172.7h0.9v0.9h-0.9zM126.3 168.7h0.9v0.9h-0.9zM131.1 175.2h0.9v0.9h-0.9zM131.6 175.8h0.9v0.9h-0.9zM125.2 177.1h0.9v0.9h-0.9zM123.6 178.8h0.9v0.9h-0.9zM124.6 174.9h0.9v0.9h-0.9zM135.5 169.4h0.9v0.9h-0.9zM123.6 169.6h0.9v0.9h-0.9zM137.9 172.6h0.9v0.9h-0.9zM132.7 167.6h0.9v0.9h-0.9zM125.7 169.4h0.9v0.9h-0.9zM122.1 174.3h0.9v0.9h-0.9zM128.0 168.2h0.9v0.9h-0.9zM126.8 173.0h0.9v0.9h-0.9zM137.5 172.6h0.9v0.9h-0.9z" fill="#3a2aa0" opacity="1.0"/>
<path d="M136.0 177.5h0.9v0.9h-0.9zM135.4 176.0h0.9v0.9h-0.9zM106.1 178.8h0.9v0.9h-0.9zM126.8 176.1h0.9v0.9h-0.9zM112.4 179.5h0.9v0.9h-0.9zM127.2 176.0h0.9v0.9h-0.9zM105.8 180.4h0.9v0.9h-0.9zM117.6 179.4h0.9v0.9h-0.9zM113.0 177.5h0.9v0.9h-0.9zM113.9 177.1h0.9v0.9h-0.9zM131.9 177.7h0.9v0.9h-0.9zM117.5 179.4h0.9v0.9h-0.9zM136.8 180.6h0.9v0.9h-0.9zM114.3 176.8h0.9v0.9h-0.9zM121.0 176.2h0.9v0.9h-0.9zM122.1 178.8h0.9v0.9h-0.9zM110.0 178.7h0.9v0.9h-0.9zM137.4 177.0h0.9v0.9h-0.9zM129.2 180.0h0.9v0.9h-0.9zM136.9 180.2h0.9v0.9h-0.9zM114.3 178.8h0.9v0.9h-0.9zM107.7 180.6h0.9v0.9h-0.9zM131.6 178.1h0.9v0.9h-0.9zM111.7 175.8h0.9v0.9h-0.9zM138.8 176.1h0.9v0.9h-0.9zM127.6 178.3h0.9v0.9h-0.9zM130.2 178.3h0.9v0.9h-0.9zM125.8 179.6h0.9v0.9h-0.9zM138.0 175.9h0.9v0.9h-0.9zM136.9 179.6h0.9v0.9h-0.9zM137.2 176.5h0.9v0.9h-0.9zM120.8 180.2h0.9v0.9h-0.9zM126.4 179.0h0.9v0.9h-0.9zM106.1 178.2h0.9v0.9h-0.9zM124.0 180.6h0.9v0.9h-0.9zM127.1 178.9h0.9v0.9h-0.9zM139.3 181.0h0.9v0.9h-0.9zM115.5 179.8h0.9v0.9h-0.9zM105.4 180.6h0.9v0.9h-0.9zM104.4 177.8h0.9v0.9h-0.9zM124.5 176.7h0.9v0.9h-0.9zM109.8 176.5h0.9v0.9h-0.9zM121.5 175.3h0.9v0.9h-0.9zM113.9 179.4h0.9v0.9h-0.9zM120.4 179.4h0.9v0.9h-0.9zM138.2 180.4h0.9v0.9h-0.9zM107.2 175.8h0.9v0.9h-0.9zM114.5 182.9h0.9v0.9h-0.9zM117.8 179.7h0.9v0.9h-0.9zM127.4 177.2h0.9v0.9h-0.9zM126.5 179.6h0.9v0.9h-0.9zM138.8 180.9h0.9v0.9h-0.9zM125.6 178.7h0.9v0.9h-0.9zM112.5 180.3h0.9v0.9h-0.9zM107.5 177.0h0.9v0.9h-0.9zM128.6 178.2h0.9v0.9h-0.9zM128.4 175.5h0.9v0.9h-0.9zM138.7 177.4h0.9v0.9h-0.9zM138.8 181.8h0.9v0.9h-0.9zM136.7 179.4h0.9v0.9h-0.9z" fill="#777" opacity="0.5"/>
<rect x="93.5" y="129.5" width="73.69999999999999" height="74.6" fill="none" stroke="#2a2a2a" stroke-width="1.0"/>
<line x1="90.0" y1="135.5" x2="93.5" y2="135.5" stroke="#333" stroke-width="1.0"/>
<text x="72.6" y="138.6" font-size="8.4" fill="#222">10<tspan dy="-3.2" font-size="5">5</tspan></text>
<line x1="90.0" y1="150.1" x2="93.5" y2="150.1" stroke="#333" stroke-width="1.0"/>
<text x="72.6" y="153.2" font-size="8.4" fill="#222">10<tspan dy="-3.2" font-size="5">4</tspan></text>
<line x1="90.0" y1="164.8" x2="93.5" y2="164.8" stroke="#333" stroke-width="1.0"/>
<text x="72.6" y="167.8" font-size="8.4" fill="#222">10<tspan dy="-3.2" font-size="5">3</tspan></text>
<line x1="90.0" y1="179.7" x2="93.5" y2="179.7" stroke="#333" stroke-width="1.0"/>
<text x="72.6" y="182.9" font-size="8.4" fill="#222">10<tspan dy="-3.2" font-size="5">2</tspan></text>
<line x1="90.0" y1="187.4" x2="93.5" y2="187.4" stroke="#333" stroke-width="1.0"/>
<text x="85.0" y="189.9" font-size="8.4" text-anchor="end" font-weight="normal" fill="#222" >0</text>
<line x1="90.0" y1="194.8" x2="93.5" y2="194.8" stroke="#333" stroke-width="1.0"/>
<text x="66.8" y="198.2" font-size="8.4" fill="#222">−10<tspan dy="-3.2" font-size="5">2</tspan></text>
<line x1="91.5" y1="145.70496206330586" x2="93.5" y2="145.70496206330586" stroke="#555" stroke-width="0.7"/>
<line x1="91.5" y1="143.13402968109293" x2="93.5" y2="143.13402968109293" stroke="#555" stroke-width="0.7"/>
<line x1="91.5" y1="141.30992412661175" x2="93.5" y2="141.30992412661175" stroke="#555" stroke-width="0.7"/>
<line x1="91.5" y1="139.8950379366941" x2="93.5" y2="139.8950379366941" stroke="#555" stroke-width="0.7"/>
<line x1="91.5" y1="138.7389917443988" x2="93.5" y2="138.7389917443988" stroke="#555" stroke-width="0.7"/>
<line x1="91.5" y1="137.76156861579184" x2="93.5" y2="137.76156861579184" stroke="#555" stroke-width="0.7"/>
<line x1="91.5" y1="136.91488618991764" x2="93.5" y2="136.91488618991764" stroke="#555" stroke-width="0.7"/>
<line x1="91.5" y1="136.16805936218586" x2="93.5" y2="136.16805936218586" stroke="#555" stroke-width="0.7"/>
<line x1="91.5" y1="160.37485906373948" x2="93.5" y2="160.37485906373948" stroke="#555" stroke-width="0.7"/>
<line x1="91.5" y1="157.78631755562097" x2="93.5" y2="157.78631755562097" stroke="#555" stroke-width="0.7"/>
<line x1="91.5" y1="155.94971812747895" x2="93.5" y2="155.94971812747895" stroke="#555" stroke-width="0.7"/>
<line x1="91.5" y1="154.52514093626053" x2="93.5" y2="154.52514093626053" stroke="#555" stroke-width="0.7"/>
<line x1="91.5" y1="153.36117661936044" x2="93.5" y2="153.36117661936044" stroke="#555" stroke-width="0.7"/>
<line x1="91.5" y1="152.37705881179042" x2="93.5" y2="152.37705881179042" stroke="#555" stroke-width="0.7"/>
<line x1="91.5" y1="151.52457719121844" x2="93.5" y2="151.52457719121844" stroke="#555" stroke-width="0.7"/>
<line x1="91.5" y1="150.77263511124193" x2="93.5" y2="150.77263511124193" stroke="#555" stroke-width="0.7"/>
<line x1="91.5" y1="175.21465306460667" x2="93.5" y2="175.21465306460667" stroke="#555" stroke-width="0.7"/>
<line x1="91.5" y1="172.59089330467702" x2="93.5" y2="172.59089330467702" stroke="#555" stroke-width="0.7"/>
<line x1="91.5" y1="170.72930612921337" x2="93.5" y2="170.72930612921337" stroke="#555" stroke-width="0.7"/>
<line x1="91.5" y1="169.28534693539333" x2="93.5" y2="169.28534693539333" stroke="#555" stroke-width="0.7"/>
<line x1="91.5" y1="168.10554636928373" x2="93.5" y2="168.10554636928373" stroke="#555" stroke-width="0.7"/>
<line x1="91.5" y1="167.10803920378757" x2="93.5" y2="167.10803920378757" stroke="#555" stroke-width="0.7"/>
<line x1="91.5" y1="166.24395919382005" x2="93.5" y2="166.24395919382005" stroke="#555" stroke-width="0.7"/>
<line x1="91.5" y1="165.48178660935406" x2="93.5" y2="165.48178660935406" stroke="#555" stroke-width="0.7"/>
<line x1="90.0" y1="187.4" x2="93.5" y2="187.4" stroke="#000" stroke-width="2.2"/>
<line x1="91.5" y1="182.7" x2="93.5" y2="182.7" stroke="#555" stroke-width="0.7"/>
<line x1="91.5" y1="185.2" x2="93.5" y2="185.2" stroke="#555" stroke-width="0.7"/>
<line x1="91.5" y1="190.4" x2="93.5" y2="190.4" stroke="#555" stroke-width="0.7"/>
<line x1="91.5" y1="192.4" x2="93.5" y2="192.4" stroke="#555" stroke-width="0.7"/>
<line x1="91.5" y1="197.8" x2="93.5" y2="197.8" stroke="#555" stroke-width="0.7"/>
<line x1="91.5" y1="199.8" x2="93.5" y2="199.8" stroke="#555" stroke-width="0.7"/>
<line x1="105" y1="204.1" x2="105" y2="206.6" stroke="#444" stroke-width="0.9"/>
<line x1="107.5" y1="204.1" x2="107.5" y2="206.6" stroke="#444" stroke-width="0.9"/>
<line x1="109.5" y1="204.1" x2="109.5" y2="206.6" stroke="#444" stroke-width="0.9"/>
<line x1="116" y1="204.1" x2="116" y2="206.6" stroke="#444" stroke-width="0.9"/>
<line x1="118" y1="204.1" x2="118" y2="206.6" stroke="#444" stroke-width="0.9"/>
<line x1="120.5" y1="204.1" x2="120.5" y2="206.6" stroke="#444" stroke-width="0.9"/>
<line x1="112.8" y1="204.1" x2="112.8" y2="207.1" stroke="#000" stroke-width="2.4"/>
<line x1="124.91338994363176" y1="204.1" x2="124.91338994363176" y2="206.1" stroke="#666" stroke-width="0.6"/>
<line x1="127.20257631135561" y1="204.1" x2="127.20257631135561" y2="206.1" stroke="#666" stroke-width="0.6"/>
<line x1="128.8267798872635" y1="204.1" x2="128.8267798872635" y2="206.1" stroke="#666" stroke-width="0.6"/>
<line x1="130.08661005636824" y1="204.1" x2="130.08661005636824" y2="206.1" stroke="#666" stroke-width="0.6"/>
<line x1="131.11596625498737" y1="204.1" x2="131.11596625498737" y2="206.1" stroke="#666" stroke-width="0.6"/>
<line x1="131.98627452018533" y1="204.1" x2="131.98627452018533" y2="206.1" stroke="#666" stroke-width="0.6"/>
<line x1="132.74016983089527" y1="204.1" x2="132.74016983089527" y2="206.1" stroke="#666" stroke-width="0.6"/>
<line x1="133.40515262271123" y1="204.1" x2="133.40515262271123" y2="206.1" stroke="#666" stroke-width="0.6"/>
<line x1="138.06390494146373" y1="204.1" x2="138.06390494146373" y2="206.1" stroke="#666" stroke-width="0.6"/>
<line x1="140.44113693871543" y1="204.1" x2="140.44113693871543" y2="206.1" stroke="#666" stroke-width="0.6"/>
<line x1="142.1278098829275" y1="204.1" x2="142.1278098829275" y2="206.1" stroke="#666" stroke-width="0.6"/>
<line x1="143.43609505853627" y1="204.1" x2="143.43609505853627" y2="206.1" stroke="#666" stroke-width="0.6"/>
<line x1="144.5050418801792" y1="204.1" x2="144.5050418801792" y2="206.1" stroke="#666" stroke-width="0.6"/>
<line x1="145.40882354019246" y1="204.1" x2="145.40882354019246" y2="206.1" stroke="#666" stroke-width="0.6"/>
<line x1="146.19171482439123" y1="204.1" x2="146.19171482439123" y2="206.1" stroke="#666" stroke-width="0.6"/>
<line x1="146.8822738774309" y1="204.1" x2="146.8822738774309" y2="206.1" stroke="#666" stroke-width="0.6"/>
<line x1="151.56390494146373" y1="204.1" x2="151.56390494146373" y2="206.1" stroke="#666" stroke-width="0.6"/>
<line x1="153.94113693871543" y1="204.1" x2="153.94113693871543" y2="206.1" stroke="#666" stroke-width="0.6"/>
<line x1="155.6278098829275" y1="204.1" x2="155.6278098829275" y2="206.1" stroke="#666" stroke-width="0.6"/>
<line x1="156.93609505853627" y1="204.1" x2="156.93609505853627" y2="206.1" stroke="#666" stroke-width="0.6"/>
<line x1="158.0050418801792" y1="204.1" x2="158.0050418801792" y2="206.1" stroke="#666" stroke-width="0.6"/>
<line x1="158.90882354019246" y1="204.1" x2="158.90882354019246" y2="206.1" stroke="#666" stroke-width="0.6"/>
<line x1="159.69171482439123" y1="204.1" x2="159.69171482439123" y2="206.1" stroke="#666" stroke-width="0.6"/>
<line x1="160.3822738774309" y1="204.1" x2="160.3822738774309" y2="206.1" stroke="#666" stroke-width="0.6"/>
<line x1="134" y1="204.1" x2="134" y2="207.29999999999998" stroke="#333" stroke-width="1.0"/>
<line x1="147.5" y1="204.1" x2="147.5" y2="207.29999999999998" stroke="#333" stroke-width="1.0"/>
<line x1="161" y1="204.1" x2="161" y2="207.29999999999998" stroke="#333" stroke-width="1.0"/>
<text x="113.25" y="218.6" font-size="8.4" text-anchor="middle" font-weight="normal" fill="#222" >0</text>
<text x="127.55" y="218.6" font-size="8.4" fill="#222">10<tspan dy="-3.2" font-size="5">3</tspan></text>
<text x="141.3" y="218.6" font-size="8.4" fill="#222">10<tspan dy="-3.2" font-size="5">4</tspan></text>
<text x="155.05" y="218.6" font-size="8.4" fill="#222">10<tspan dy="-3.2" font-size="5">5</tspan></text>
<text x="140.28" y="142.5" font-size="9.8" font-weight="normal" fill="#111" textLength="24.49" lengthAdjust="spacingAndGlyphs" >D200</text>
<line x1="66.6" y1="180" x2="66.6" y2="224.6" stroke="#111" stroke-width="1.3"/>
<line x1="66.6" y1="224.6" x2="115" y2="224.6" stroke="#111" stroke-width="1.3"/>
<polygon points="66.6,174.5 63.7,181 69.5,181" fill="#111"/>
<polygon points="120.5,224.6 114.2,221.7 114.2,227.5" fill="#111"/>
<text transform="translate(60.2,199.2) rotate(-90)" x="0" y="0" font-size="10" text-anchor="middle" fill="#1a1a1a" stroke="#1a1a1a" stroke-width="0.1" textLength="30.5" lengthAdjust="spacingAndGlyphs">Fc<tspan font-size="8.5">ε</tspan>R1<tspan font-size="9">γ</tspan></text>
<text x="75.67" y="237.4" font-size="9.7" font-weight="normal" fill="#111" textLength="35.90" lengthAdjust="spacingAndGlyphs" >NKG2C</text>
<line x1="230" y1="34.2" x2="230" y2="167.9" stroke="#222" stroke-width="1.2"/>
<line x1="226.2" y1="167.9" x2="230" y2="167.9" stroke="#222" stroke-width="1.2"/>
<text x="216.06" y="171.3" font-size="9.1" font-weight="normal" fill="#1a1a1a" textLength="5.92" lengthAdjust="spacingAndGlyphs" >0</text>
<line x1="226.2" y1="141.92000000000002" x2="230" y2="141.92000000000002" stroke="#222" stroke-width="1.2"/>
<text x="210.15" y="145.32" font-size="9.1" font-weight="normal" fill="#1a1a1a" textLength="11.84" lengthAdjust="spacingAndGlyphs" >20</text>
<line x1="226.2" y1="115.94000000000001" x2="230" y2="115.94000000000001" stroke="#222" stroke-width="1.2"/>
<text x="210.15" y="119.34" font-size="9.1" font-weight="normal" fill="#1a1a1a" textLength="11.84" lengthAdjust="spacingAndGlyphs" >40</text>
<line x1="226.2" y1="89.96000000000001" x2="230" y2="89.96000000000001" stroke="#222" stroke-width="1.2"/>
<text x="210.15" y="93.36" font-size="9.1" font-weight="normal" fill="#1a1a1a" textLength="11.84" lengthAdjust="spacingAndGlyphs" >60</text>
<line x1="226.2" y1="63.98000000000002" x2="230" y2="63.98000000000002" stroke="#222" stroke-width="1.2"/>
<text x="210.15" y="67.38" font-size="9.1" font-weight="normal" fill="#1a1a1a" textLength="11.84" lengthAdjust="spacingAndGlyphs" >80</text>
<line x1="226.2" y1="38.0" x2="230" y2="38.0" stroke="#222" stroke-width="1.2"/>
<text x="204.25" y="41.4" font-size="9.1" font-weight="normal" fill="#1a1a1a" textLength="17.76" lengthAdjust="spacingAndGlyphs" >100</text>
<line x1="226.2" y1="167.9" x2="330" y2="167.9" stroke="#222" stroke-width="1.2"/>
<line x1="245.3" y1="167.9" x2="245.3" y2="171.9" stroke="#222" stroke-width="1.2"/>
<line x1="268.6" y1="167.9" x2="268.6" y2="171.9" stroke="#222" stroke-width="1.2"/>
<line x1="292" y1="167.9" x2="292" y2="171.9" stroke="#222" stroke-width="1.2"/>
<line x1="315.2" y1="167.9" x2="315.2" y2="171.9" stroke="#222" stroke-width="1.2"/>
<text transform="translate(198.6,101.3) rotate(-90)" x="0" y="0" font-size="10.5" text-anchor="middle" fill="#1a1a1a" stroke="#1a1a1a" stroke-width="0.18" textLength="69" lengthAdjust="spacingAndGlyphs">% of total NK cells</text>
<rect x="237.3" y="89.9" width="16" height="34.39999999999999" fill="#f9c6b6"/>
<line x1="245.3" y1="45.7" x2="245.3" y2="89.9" stroke="#d9413f" stroke-width="1.2"/>
<line x1="245.3" y1="124.3" x2="245.3" y2="144.3" stroke="#d9413f" stroke-width="1.2"/>
<line x1="241.0" y1="45.7" x2="249.60000000000002" y2="45.7" stroke="#d9413f" stroke-width="1.2"/>
<line x1="241.0" y1="144.3" x2="249.60000000000002" y2="144.3" stroke="#d9413f" stroke-width="1.2"/>
<line x1="237.3" y1="110.3" x2="253.3" y2="110.3" stroke="#d9413f" stroke-width="1.6"/>
<rect x="260.8" y="115.1" width="15.6" height="28.599999999999994" fill="#c9dcbd"/>
<line x1="268.6" y1="98.6" x2="268.6" y2="115.1" stroke="#3b8048" stroke-width="1.2"/>
<line x1="268.6" y1="143.7" x2="268.6" y2="162.3" stroke="#3b8048" stroke-width="1.2"/>
<line x1="264.5" y1="98.6" x2="272.70000000000005" y2="98.6" stroke="#3b8048" stroke-width="1.2"/>
<line x1="264.5" y1="162.3" x2="272.70000000000005" y2="162.3" stroke="#3b8048" stroke-width="1.2"/>
<line x1="260.8" y1="129.8" x2="276.40000000000003" y2="129.8" stroke="#3b8048" stroke-width="1.6"/>
<rect x="284" y="150.6" width="16" height="11.300000000000011" fill="#bbb6e5"/>
<line x1="292" y1="134.4" x2="292" y2="150.6" stroke="#383887" stroke-width="1.2"/>
<line x1="288.1" y1="134.4" x2="295.9" y2="134.4" stroke="#383887" stroke-width="1.2"/>
<line x1="284" y1="158" x2="300" y2="158" stroke="#383887" stroke-width="1.6"/>
<line x1="292" y1="161.9" x2="292" y2="167.8" stroke="#383887" stroke-width="1.2"/>
<rect x="307.59999999999997" y="146" width="15.2" height="13.699999999999989" fill="#a8a8a8"/>
<line x1="315.2" y1="137.4" x2="315.2" y2="146" stroke="#3a3a3a" stroke-width="1.2"/>
<line x1="315.2" y1="159.7" x2="315.2" y2="165.8" stroke="#3a3a3a" stroke-width="1.2"/>
<line x1="311.3" y1="137.4" x2="319.09999999999997" y2="137.4" stroke="#3a3a3a" stroke-width="1.2"/>
<line x1="311.3" y1="165.8" x2="319.09999999999997" y2="165.8" stroke="#3a3a3a" stroke-width="1.2"/>
<line x1="307.59999999999997" y1="154.6" x2="322.8" y2="154.6" stroke="#3a3a3a" stroke-width="1.6"/>
<polygon points="289.7,131.57 294.3,131.57 292,127.43" fill="#1d1d6a"/>
<circle cx="315" cy="107.4" r="2.3" fill="#111"/>
<circle cx="318.2" cy="115.7" r="2.3" fill="#111"/>
<circle cx="311.6" cy="120.1" r="2.3" fill="#111"/>
<polyline points="269,40.5 269,35.5 293.8,35.5 293.8,40.5" fill="none" stroke="#222" stroke-width="1.1"/>
<circle cx="275.6" cy="30.4" r="1.15" fill="#1a1a1a"/>
<circle cx="279.40000000000003" cy="30.4" r="1.15" fill="#1a1a1a"/>
<circle cx="283.2" cy="30.4" r="1.15" fill="#1a1a1a"/>
<circle cx="287.0" cy="30.4" r="1.15" fill="#1a1a1a"/>
<rect x="221" y="184.0" width="14" height="7.3" fill="#ee2424"/>
<text x="238.19" y="190.8" font-size="9.1" font-weight="normal" fill="#1a1a1a" textLength="80.30" lengthAdjust="spacingAndGlyphs" stroke="#1a1a1a" stroke-width="0.12">NKG2C−FcεR1γ+</text>
<rect x="221" y="197.3" width="14" height="7.3" fill="#2a8c30"/>
<text x="238.19" y="204.1" font-size="9.1" font-weight="normal" fill="#1a1a1a" textLength="80.30" lengthAdjust="spacingAndGlyphs" stroke="#1a1a1a" stroke-width="0.12">NKG2C+FcεR1γ+</text>
<rect x="221" y="210.6" width="14" height="7.3" fill="#30268f"/>
<text x="238.19" y="217.4" font-size="9.1" font-weight="normal" fill="#1a1a1a" textLength="80.30" lengthAdjust="spacingAndGlyphs" stroke="#1a1a1a" stroke-width="0.12">NKG2C+FcεR1γ−</text>
<rect x="221" y="223.9" width="14" height="7.3" fill="#111"/>
<text x="238.19" y="230.7" font-size="9.1" font-weight="normal" fill="#1a1a1a" textLength="80.30" lengthAdjust="spacingAndGlyphs" stroke="#1a1a1a" stroke-width="0.12">NKG2C−FcεR1γ−</text>
<line x1="410.8" y1="29.0" x2="410.8" y2="162.8" stroke="#222" stroke-width="1.2"/>
<line x1="407.0" y1="162.8" x2="410.8" y2="162.8" stroke="#222" stroke-width="1.2"/>
<text x="397.11" y="166.0" font-size="9.1" font-weight="normal" fill="#1a1a1a" textLength="5.87" lengthAdjust="spacingAndGlyphs" >0</text>
<line x1="407.0" y1="136.82000000000002" x2="410.8" y2="136.82000000000002" stroke="#222" stroke-width="1.2"/>
<text x="391.25" y="140.02" font-size="9.1" font-weight="normal" fill="#1a1a1a" textLength="11.74" lengthAdjust="spacingAndGlyphs" >20</text>
<line x1="407.0" y1="110.84000000000002" x2="410.8" y2="110.84000000000002" stroke="#222" stroke-width="1.2"/>
<text x="391.25" y="114.04" font-size="9.1" font-weight="normal" fill="#1a1a1a" textLength="11.74" lengthAdjust="spacingAndGlyphs" >40</text>
<line x1="407.0" y1="84.86000000000001" x2="410.8" y2="84.86000000000001" stroke="#222" stroke-width="1.2"/>
<text x="391.25" y="88.06" font-size="9.1" font-weight="normal" fill="#1a1a1a" textLength="11.74" lengthAdjust="spacingAndGlyphs" >60</text>
<line x1="407.0" y1="58.880000000000024" x2="410.8" y2="58.880000000000024" stroke="#222" stroke-width="1.2"/>
<text x="391.25" y="62.08" font-size="9.1" font-weight="normal" fill="#1a1a1a" textLength="11.74" lengthAdjust="spacingAndGlyphs" >80</text>
<line x1="407.0" y1="32.900000000000006" x2="410.8" y2="32.900000000000006" stroke="#222" stroke-width="1.2"/>
<text x="385.39" y="36.1" font-size="9.1" font-weight="normal" fill="#1a1a1a" textLength="17.61" lengthAdjust="spacingAndGlyphs" >100</text>
<line x1="407.0" y1="162.8" x2="511.2" y2="162.8" stroke="#222" stroke-width="1.2"/>
<line x1="426.3" y1="162.8" x2="426.3" y2="166.8" stroke="#222" stroke-width="1.2"/>
<line x1="449.4" y1="162.8" x2="449.4" y2="166.8" stroke="#222" stroke-width="1.2"/>
<line x1="472.7" y1="162.8" x2="472.7" y2="166.8" stroke="#222" stroke-width="1.2"/>
<line x1="496" y1="162.8" x2="496" y2="166.8" stroke="#222" stroke-width="1.2"/>
<text transform="translate(378.5,95.9) rotate(-90)" x="0" y="0" font-size="10.5" text-anchor="middle" fill="#1a1a1a" stroke="#1a1a1a" stroke-width="0.18" textLength="96.5" lengthAdjust="spacingAndGlyphs">% of NKG2C<tspan font-size="7" dy="-3">+</tspan><tspan dy="3">2A</tspan><tspan font-size="7" dy="-3">−</tspan><tspan dy="3"> NK cells</tspan></text>
<rect x="418.6" y="118.1" width="15.4" height="22.700000000000017" fill="#f9c6b6"/>
<line x1="426.3" y1="94.2" x2="426.3" y2="118.1" stroke="#d9413f" stroke-width="1.2"/>
<line x1="426.3" y1="140.8" x2="426.3" y2="158.6" stroke="#d9413f" stroke-width="1.2"/>
<line x1="422.2" y1="94.2" x2="430.40000000000003" y2="94.2" stroke="#d9413f" stroke-width="1.2"/>
<line x1="422.2" y1="158.6" x2="430.40000000000003" y2="158.6" stroke="#d9413f" stroke-width="1.2"/>
<line x1="418.6" y1="132.9" x2="434.0" y2="132.9" stroke="#d9413f" stroke-width="1.6"/>
<rect x="441.4" y="83.4" width="16" height="20.099999999999994" fill="#c9dcbd"/>
<line x1="449.4" y1="60.4" x2="449.4" y2="83.4" stroke="#3b8048" stroke-width="1.2"/>
<line x1="449.4" y1="103.5" x2="449.4" y2="131.9" stroke="#3b8048" stroke-width="1.2"/>
<line x1="445.4" y1="60.4" x2="453.4" y2="60.4" stroke="#3b8048" stroke-width="1.2"/>
<line x1="445.4" y1="131.9" x2="453.4" y2="131.9" stroke="#3b8048" stroke-width="1.2"/>
<line x1="441.4" y1="93.3" x2="457.4" y2="93.3" stroke="#3b8048" stroke-width="1.6"/>
<rect x="465.0" y="138.9" width="15.4" height="11.5" fill="#bbb6e5"/>
<line x1="472.7" y1="132.7" x2="472.7" y2="138.9" stroke="#383887" stroke-width="1.2"/>
<line x1="472.7" y1="150.4" x2="472.7" y2="158.2" stroke="#383887" stroke-width="1.2"/>
<line x1="468.8" y1="132.7" x2="476.59999999999997" y2="132.7" stroke="#383887" stroke-width="1.2"/>
<line x1="468.8" y1="158.2" x2="476.59999999999997" y2="158.2" stroke="#383887" stroke-width="1.2"/>
<line x1="465.0" y1="146.8" x2="480.4" y2="146.8" stroke="#383887" stroke-width="1.6"/>
<rect x="488.3" y="151.5" width="15.4" height="5.5" fill="#a8a8a8"/>
<line x1="496" y1="145.6" x2="496" y2="151.5" stroke="#3a3a3a" stroke-width="1.2"/>
<line x1="492" y1="145.6" x2="500" y2="145.6" stroke="#3a3a3a" stroke-width="1.2"/>
<line x1="488.3" y1="154.5" x2="503.7" y2="154.5" stroke="#3a3a3a" stroke-width="1.6"/>
<line x1="496" y1="157" x2="496" y2="166" stroke="#3a3a3a" stroke-width="1.2"/>
<line x1="492" y1="162" x2="500" y2="162" stroke="#111" stroke-width="1.6"/>
<rect x="447.09999999999997" y="140.7" width="4.6" height="4.6" fill="#2a8a32"/>
<rect x="447.09999999999997" y="150.7" width="4.6" height="4.6" fill="#2a8a32"/>
<polygon points="470.0,104.36999999999999 474.6,104.36999999999999 472.3,100.23" fill="#1d1d6a"/>
<polygon points="465.2,112.16999999999999 469.8,112.16999999999999 467.5,108.03" fill="#1d1d6a"/>
<polygon points="470.3,115.77 474.90000000000003,115.77 472.6,111.63000000000001" fill="#1d1d6a"/>
<polygon points="475.09999999999997,114.77 479.7,114.77 477.4,110.63000000000001" fill="#1d1d6a"/>
<circle cx="492.7" cy="114.5" r="2.3" fill="#111"/>
<circle cx="498.7" cy="116.8" r="2.3" fill="#111"/>
<circle cx="492.3" cy="137.9" r="2.3" fill="#111"/>
<circle cx="495.7" cy="141.2" r="2.3" fill="#111"/>
<circle cx="500.4" cy="139.7" r="2.3" fill="#111"/>
<polyline points="427.2,43.7 427.2,38.5 448.9,38.5 448.9,43.7" fill="none" stroke="#222" stroke-width="1.1"/>
<circle cx="432.5" cy="34.4" r="1.15" fill="#1a1a1a"/>
<circle cx="436.3" cy="34.4" r="1.15" fill="#1a1a1a"/>
<circle cx="440.09999999999997" cy="34.4" r="1.15" fill="#1a1a1a"/>
<circle cx="443.9" cy="34.4" r="1.15" fill="#1a1a1a"/>
<rect x="401.9" y="184.1" width="14" height="7.4" fill="#ee2424"/>
<text x="419.70" y="190.9" font-size="9.1" font-weight="normal" fill="#1a1a1a" textLength="71.21" lengthAdjust="spacingAndGlyphs" stroke="#1a1a1a" stroke-width="0.12">CD57+FcεR1γ−</text>
<rect x="401.9" y="197.4" width="14" height="7.4" fill="#2a8c30"/>
<text x="419.70" y="204.2" font-size="9.1" font-weight="normal" fill="#1a1a1a" textLength="71.21" lengthAdjust="spacingAndGlyphs" stroke="#1a1a1a" stroke-width="0.12">CD57+FcεR1γ+</text>
<rect x="401.9" y="210.7" width="14" height="7.4" fill="#30268f"/>
<text x="419.70" y="217.5" font-size="9.1" font-weight="normal" fill="#1a1a1a" textLength="71.21" lengthAdjust="spacingAndGlyphs" stroke="#1a1a1a" stroke-width="0.12">CD57−FcεR1γ+</text>
<rect x="401.9" y="224.0" width="14" height="7.4" fill="#111"/>
<text x="419.70" y="230.8" font-size="9.1" font-weight="normal" fill="#1a1a1a" textLength="71.21" lengthAdjust="spacingAndGlyphs" stroke="#1a1a1a" stroke-width="0.12">CD57−FcεR1γ−</text>
<line x1="59.6" y1="310.6" x2="59.6" y2="430.8" stroke="#222" stroke-width="1.2"/>
<line x1="55.800000000000004" y1="430.8" x2="59.6" y2="430.8" stroke="#222" stroke-width="1.2"/>
<text x="45.98" y="434.1" font-size="9.4" font-weight="normal" fill="#1a1a1a" textLength="6.01" lengthAdjust="spacingAndGlyphs" >0</text>
<line x1="55.800000000000004" y1="401.7" x2="59.6" y2="401.7" stroke="#222" stroke-width="1.2"/>
<text x="39.98" y="405.0" font-size="9.4" font-weight="normal" fill="#1a1a1a" textLength="12.02" lengthAdjust="spacingAndGlyphs" >20</text>
<line x1="55.800000000000004" y1="372.6" x2="59.6" y2="372.6" stroke="#222" stroke-width="1.2"/>
<text x="39.98" y="375.9" font-size="9.4" font-weight="normal" fill="#1a1a1a" textLength="12.02" lengthAdjust="spacingAndGlyphs" >40</text>
<line x1="55.800000000000004" y1="343.5" x2="59.6" y2="343.5" stroke="#222" stroke-width="1.2"/>
<text x="39.98" y="346.8" font-size="9.4" font-weight="normal" fill="#1a1a1a" textLength="12.02" lengthAdjust="spacingAndGlyphs" >60</text>
<line x1="55.800000000000004" y1="314.4" x2="59.6" y2="314.4" stroke="#222" stroke-width="1.2"/>
<text x="39.98" y="317.7" font-size="9.4" font-weight="normal" fill="#1a1a1a" textLength="12.02" lengthAdjust="spacingAndGlyphs" >80</text>
<line x1="56.0" y1="430.8" x2="192.1" y2="430.8" stroke="#222" stroke-width="1.2"/>
<line x1="86.4" y1="430.8" x2="86.4" y2="434.8" stroke="#222" stroke-width="1.2"/>
<line x1="126.7" y1="430.8" x2="126.7" y2="434.8" stroke="#222" stroke-width="1.2"/>
<line x1="166.7" y1="430.8" x2="166.7" y2="434.8" stroke="#222" stroke-width="1.2"/>
<text transform="translate(35.3,370.6) rotate(-90)" x="0" y="0" font-size="10.5" text-anchor="middle" fill="#1a1a1a" stroke="#1a1a1a" stroke-width="0.18" textLength="70.5" lengthAdjust="spacingAndGlyphs">% of total NK cells</text>
<text x="78.80" y="292.7" font-size="11.5" font-weight="normal" fill="#1a1a1a" textLength="43.25" lengthAdjust="spacingAndGlyphs" stroke="#1a1a1a" stroke-width="0.12">NKG2C</text>
<text x="122.65" y="289.6" font-size="9.5" font-weight="normal" fill="#1a1a1a" textLength="5.30" lengthAdjust="spacingAndGlyphs" stroke="#1a1a1a" stroke-width="0.5">+</text>
<text x="127.57" y="292.7" font-size="11.5" font-weight="normal" fill="#1a1a1a" textLength="38.79" lengthAdjust="spacingAndGlyphs" stroke="#1a1a1a" stroke-width="0.12">FcεR1γ</text>
<text x="167.65" y="289.6" font-size="9.5" font-weight="normal" fill="#1a1a1a" textLength="5.30" lengthAdjust="spacingAndGlyphs" stroke="#1a1a1a" stroke-width="0.5">+</text>
<rect x="72.9" y="369.5" width="27.0" height="30.899999999999977" fill="#f6c0dc"/>
<line x1="86.4" y1="349.4" x2="86.4" y2="369.5" stroke="#d8408c" stroke-width="1.2"/>
<line x1="86.4" y1="400.4" x2="86.4" y2="424.6" stroke="#d8408c" stroke-width="1.2"/>
<line x1="79.9" y1="349.4" x2="92.9" y2="349.4" stroke="#d8408c" stroke-width="1.2"/>
<line x1="79.9" y1="424.6" x2="92.9" y2="424.6" stroke="#d8408c" stroke-width="1.2"/>
<line x1="72.9" y1="388.9" x2="99.9" y2="388.9" stroke="#d8408c" stroke-width="1.6"/>
<rect x="113.0" y="383.8" width="27.2" height="32.19999999999999" fill="#fcdab8"/>
<line x1="126.6" y1="337.4" x2="126.6" y2="383.8" stroke="#e7a537" stroke-width="1.2"/>
<line x1="120.0" y1="337.4" x2="133.2" y2="337.4" stroke="#e7a537" stroke-width="1.2"/>
<line x1="113.0" y1="403.3" x2="140.2" y2="403.3" stroke="#e7a537" stroke-width="1.6"/>
<line x1="126.6" y1="416" x2="126.6" y2="430.6" stroke="#e7a537" stroke-width="1.2"/>
<line x1="120" y1="430.6" x2="133.5" y2="430.6" stroke="#e7a537" stroke-width="1.6"/>
<rect x="152.79999999999998" y="382.8" width="27.8" height="28.0" fill="#cde0f6"/>
<line x1="166.7" y1="352.6" x2="166.7" y2="382.8" stroke="#45a5dc" stroke-width="1.2"/>
<line x1="160.0" y1="352.6" x2="173.39999999999998" y2="352.6" stroke="#45a5dc" stroke-width="1.2"/>
<line x1="152.79999999999998" y1="403.2" x2="180.6" y2="403.2" stroke="#45a5dc" stroke-width="1.6"/>
<line x1="166.7" y1="410.8" x2="166.7" y2="430.6" stroke="#45a5dc" stroke-width="1.2"/>
<line x1="160" y1="430.6" x2="173.5" y2="430.6" stroke="#45a5dc" stroke-width="1.6"/>
<rect x="123.9" y="320.2" width="5" height="5" fill="#f0901c"/>
<polyline points="85.4,308.8 85.4,305.2 182.4,305.2 182.4,308.8" fill="none" stroke="#222" stroke-width="1.1"/>
<circle cx="134.2" cy="302.6" r="1.15" fill="#1a1a1a"/>
<polyline points="85.4,317.0 85.4,313.4 126.0,313.4 126.0,317.0" fill="none" stroke="#222" stroke-width="1.1"/>
<circle cx="106.1" cy="310.3" r="1.15" fill="#1a1a1a"/>
<text x="76.31" y="446.9" font-size="9.2" font-weight="normal" fill="#1a1a1a" textLength="19.62" lengthAdjust="spacingAndGlyphs" stroke="#1a1a1a" stroke-width="0.12">TCD</text>
<text x="108.62" y="446.9" font-size="9.2" font-weight="normal" fill="#1a1a1a" textLength="35.90" lengthAdjust="spacingAndGlyphs" stroke="#1a1a1a" stroke-width="0.12">T-replete</text>
<text x="151.99" y="446.9" font-size="9.2" font-weight="normal" fill="#1a1a1a" textLength="28.76" lengthAdjust="spacingAndGlyphs" stroke="#1a1a1a" stroke-width="0.12">DUCB</text>
<line x1="248.9" y1="310.8" x2="248.9" y2="430.8" stroke="#222" stroke-width="1.2"/>
<line x1="245.1" y1="430.8" x2="248.9" y2="430.8" stroke="#222" stroke-width="1.2"/>
<text x="235.28" y="434.1" font-size="9.4" font-weight="normal" fill="#1a1a1a" textLength="6.01" lengthAdjust="spacingAndGlyphs" >0</text>
<line x1="245.1" y1="407.5" x2="248.9" y2="407.5" stroke="#222" stroke-width="1.2"/>
<text x="229.28" y="410.8" font-size="9.4" font-weight="normal" fill="#1a1a1a" textLength="12.02" lengthAdjust="spacingAndGlyphs" >10</text>
<line x1="245.1" y1="384.2" x2="248.9" y2="384.2" stroke="#222" stroke-width="1.2"/>
<text x="229.28" y="387.5" font-size="9.4" font-weight="normal" fill="#1a1a1a" textLength="12.02" lengthAdjust="spacingAndGlyphs" >20</text>
<line x1="245.1" y1="360.9" x2="248.9" y2="360.9" stroke="#222" stroke-width="1.2"/>
<text x="229.28" y="364.2" font-size="9.4" font-weight="normal" fill="#1a1a1a" textLength="12.02" lengthAdjust="spacingAndGlyphs" >30</text>
<line x1="245.1" y1="337.6" x2="248.9" y2="337.6" stroke="#222" stroke-width="1.2"/>
<text x="229.28" y="340.9" font-size="9.4" font-weight="normal" fill="#1a1a1a" textLength="12.02" lengthAdjust="spacingAndGlyphs" >40</text>
<line x1="245.1" y1="314.3" x2="248.9" y2="314.3" stroke="#222" stroke-width="1.2"/>
<text x="229.28" y="317.6" font-size="9.4" font-weight="normal" fill="#1a1a1a" textLength="12.02" lengthAdjust="spacingAndGlyphs" >50</text>
<line x1="245.0" y1="430.8" x2="381.7" y2="430.8" stroke="#222" stroke-width="1.2"/>
<line x1="275.4" y1="430.8" x2="275.4" y2="434.8" stroke="#222" stroke-width="1.2"/>
<line x1="315.6" y1="430.8" x2="315.6" y2="434.8" stroke="#222" stroke-width="1.2"/>
<line x1="355.5" y1="430.8" x2="355.5" y2="434.8" stroke="#222" stroke-width="1.2"/>
<text transform="translate(221.8,372) rotate(-90)" x="0" y="0" font-size="10.5" text-anchor="middle" fill="#1a1a1a" stroke="#1a1a1a" stroke-width="0.18" textLength="72" lengthAdjust="spacingAndGlyphs">% of total NK cells</text>
<text x="268.80" y="292.7" font-size="11.5" font-weight="normal" fill="#1a1a1a" textLength="43.25" lengthAdjust="spacingAndGlyphs" stroke="#1a1a1a" stroke-width="0.12">NKG2C</text>
<text x="312.65" y="289.6" font-size="9.5" font-weight="normal" fill="#1a1a1a" textLength="5.30" lengthAdjust="spacingAndGlyphs" stroke="#1a1a1a" stroke-width="0.5">+</text>
<text x="317.57" y="292.7" font-size="11.5" font-weight="normal" fill="#1a1a1a" textLength="38.79" lengthAdjust="spacingAndGlyphs" stroke="#1a1a1a" stroke-width="0.12">FcεR1γ</text>
<text x="357.77" y="289.0" font-size="8.5" font-weight="normal" fill="#1a1a1a" textLength="3.85" lengthAdjust="spacingAndGlyphs" stroke="#1a1a1a" stroke-width="0.5">−</text>
<rect x="262.29999999999995" y="405.8" width="26.2" height="16.80000000000001" fill="#f6c0dc"/>
<line x1="275.4" y1="386.2" x2="275.4" y2="405.8" stroke="#d8408c" stroke-width="1.2"/>
<line x1="268.7" y1="386.2" x2="282.09999999999997" y2="386.2" stroke="#d8408c" stroke-width="1.2"/>
<line x1="262.29999999999995" y1="415.1" x2="288.5" y2="415.1" stroke="#d8408c" stroke-width="1.6"/>
<line x1="275.4" y1="422.6" x2="275.4" y2="430.7" stroke="#d8408c" stroke-width="1.2"/>
<rect x="302.40000000000003" y="412" width="26.4" height="15.100000000000023" fill="#fcdab8"/>
<line x1="315.6" y1="394.7" x2="315.6" y2="412" stroke="#e7a537" stroke-width="1.2"/>
<line x1="309.0" y1="394.7" x2="322.20000000000005" y2="394.7" stroke="#e7a537" stroke-width="1.2"/>
<line x1="302.40000000000003" y1="421.9" x2="328.8" y2="421.9" stroke="#e7a537" stroke-width="1.6"/>
<line x1="315.6" y1="427.1" x2="315.6" y2="430.7" stroke="#e7a537" stroke-width="1.2"/>
<line x1="309" y1="430.7" x2="322.5" y2="430.7" stroke="#e7a537" stroke-width="1.6"/>
<rect x="342.5" y="427.8" width="25" height="2.8" fill="#cde0f6"/>
<line x1="355.5" y1="424.1" x2="355.5" y2="430.7" stroke="#45a5dc" stroke-width="1.2"/>
<line x1="349.1" y1="424.1" x2="362.6" y2="424.1" stroke="#45a5dc" stroke-width="1.2"/>
<line x1="342.5" y1="430.0" x2="367.5" y2="430.0" stroke="#45a5dc" stroke-width="1.4"/>
<polygon points="353.2,417.23 357.8,417.23 355.5,421.37" fill="#2b8fd0"/>
<polygon points="273.1,363.65 278.1,363.65 275.6,359.15" fill="#c41a66"/>
<polygon points="273.1,373.05 278.1,373.05 275.6,368.55" fill="#c41a66"/>
<polygon points="270.1,379.95 275.1,379.95 272.6,375.45" fill="#c41a66"/>
<polygon points="275.7,379.95 280.7,379.95 278.2,375.45" fill="#c41a66"/>
<rect x="313.0" y="329.1" width="4.8" height="4.8" fill="#f0901c"/>
<rect x="313.0" y="351.6" width="4.8" height="4.8" fill="#f0901c"/>
<rect x="313.0" y="371.6" width="4.8" height="4.8" fill="#f0901c"/>
<polyline points="274.6,312.4 274.6,309.0 356.2,309.0 356.2,312.4" fill="none" stroke="#222" stroke-width="1.1"/>
<circle cx="309.40000000000003" cy="305.6" r="1.15" fill="#1a1a1a"/>
<circle cx="313.20000000000005" cy="305.6" r="1.15" fill="#1a1a1a"/>
<circle cx="317.0" cy="305.6" r="1.15" fill="#1a1a1a"/>
<circle cx="320.8" cy="305.6" r="1.15" fill="#1a1a1a"/>
<polyline points="315.6,322.90000000000003 315.6,319.3 356.2,319.3 356.2,322.90000000000003" fill="none" stroke="#222" stroke-width="1.1"/>
<circle cx="335.5" cy="315.9" r="1.15" fill="#1a1a1a"/>
<text x="265.71" y="446.9" font-size="9.2" font-weight="normal" fill="#1a1a1a" textLength="19.42" lengthAdjust="spacingAndGlyphs" stroke="#1a1a1a" stroke-width="0.12">TCD</text>
<text x="297.21" y="446.9" font-size="9.2" font-weight="normal" fill="#1a1a1a" textLength="37.23" lengthAdjust="spacingAndGlyphs" stroke="#1a1a1a" stroke-width="0.12">T-replete</text>
<text x="341.07" y="446.9" font-size="9.2" font-weight="normal" fill="#1a1a1a" textLength="29.28" lengthAdjust="spacingAndGlyphs" stroke="#1a1a1a" stroke-width="0.12">DUCB</text>
<line x1="443.5" y1="300.2" x2="443.5" y2="420.65" stroke="#222" stroke-width="1.2"/>
<line x1="439.7" y1="420.65" x2="443.5" y2="420.65" stroke="#222" stroke-width="1.2"/>
<text x="429.69" y="423.85" font-size="9.3" font-weight="normal" fill="#1a1a1a" textLength="5.90" lengthAdjust="spacingAndGlyphs" >0</text>
<line x1="439.7" y1="391.59" x2="443.5" y2="391.59" stroke="#222" stroke-width="1.2"/>
<text x="406.10" y="394.79" font-size="9.3" font-weight="normal" fill="#1a1a1a" textLength="29.48" lengthAdjust="spacingAndGlyphs" >10000</text>
<line x1="439.7" y1="362.53" x2="443.5" y2="362.53" stroke="#222" stroke-width="1.2"/>
<text x="406.10" y="365.73" font-size="9.3" font-weight="normal" fill="#1a1a1a" textLength="29.48" lengthAdjust="spacingAndGlyphs" >20000</text>
<line x1="439.7" y1="333.46999999999997" x2="443.5" y2="333.46999999999997" stroke="#222" stroke-width="1.2"/>
<text x="406.10" y="336.67" font-size="9.3" font-weight="normal" fill="#1a1a1a" textLength="29.48" lengthAdjust="spacingAndGlyphs" >30000</text>
<line x1="439.7" y1="304.40999999999997" x2="443.5" y2="304.40999999999997" stroke="#222" stroke-width="1.2"/>
<text x="406.10" y="307.61" font-size="9.3" font-weight="normal" fill="#1a1a1a" textLength="29.48" lengthAdjust="spacingAndGlyphs" >40000</text>
<line x1="440.0" y1="420.65" x2="495.8" y2="420.65" stroke="#222" stroke-width="1.2"/>
<line x1="461.2" y1="420.65" x2="461.2" y2="424.65" stroke="#222" stroke-width="1.2"/>
<line x1="487.3" y1="420.65" x2="487.3" y2="424.65" stroke="#222" stroke-width="1.2"/>
<text transform="translate(398.7,360.3) rotate(-90)" x="0" y="0" font-size="10.5" text-anchor="middle" fill="#1a1a1a" stroke="#1a1a1a" stroke-width="0.18" textLength="13.5" lengthAdjust="spacingAndGlyphs">MFI</text>
<text x="446.03" y="288.4" font-size="10.8" font-weight="normal" fill="#111" textLength="55.27" lengthAdjust="spacingAndGlyphs" stroke="#111" stroke-width="0.12">MFI CD16</text>
<rect x="452.70000000000005" y="354" width="16.8" height="29.399999999999977" fill="#c9dcbd"/>
<line x1="461.1" y1="320.5" x2="461.1" y2="354" stroke="#3b8048" stroke-width="1.2"/>
<line x1="461.1" y1="383.4" x2="461.1" y2="396.1" stroke="#3b8048" stroke-width="1.2"/>
<line x1="456.1" y1="320.5" x2="466.1" y2="320.5" stroke="#3b8048" stroke-width="1.2"/>
<line x1="456.1" y1="396.1" x2="466.1" y2="396.1" stroke="#3b8048" stroke-width="1.2"/>
<line x1="452.70000000000005" y1="371.2" x2="469.5" y2="371.2" stroke="#3b8048" stroke-width="1.6"/>
<rect x="478.8" y="378.2" width="16.8" height="19.100000000000023" fill="#bbb6e5"/>
<line x1="487.2" y1="361.9" x2="487.2" y2="378.2" stroke="#383887" stroke-width="1.2"/>
<line x1="487.2" y1="397.3" x2="487.2" y2="404.2" stroke="#383887" stroke-width="1.2"/>
<line x1="482.2" y1="361.9" x2="492.2" y2="361.9" stroke="#383887" stroke-width="1.2"/>
<line x1="482.2" y1="404.2" x2="492.2" y2="404.2" stroke="#383887" stroke-width="1.2"/>
<line x1="478.8" y1="389.3" x2="495.59999999999997" y2="389.3" stroke="#383887" stroke-width="1.6"/>
<polyline points="460.2,308.5 460.2,305.2 487.7,305.2 487.7,308.5" fill="none" stroke="#222" stroke-width="1.1"/>
<circle cx="468.2" cy="301.2" r="1.15" fill="#1a1a1a"/>
<circle cx="472.0" cy="301.2" r="1.15" fill="#1a1a1a"/>
<circle cx="475.79999999999995" cy="301.2" r="1.15" fill="#1a1a1a"/>
<circle cx="479.59999999999997" cy="301.2" r="1.15" fill="#1a1a1a"/>
<rect x="412.4" y="439.4" width="14" height="7.0" fill="#2a8c30"/>
<text x="429.59" y="445.3" font-size="9.1" font-weight="normal" fill="#1a1a1a" textLength="74.35" lengthAdjust="spacingAndGlyphs" stroke="#1a1a1a" stroke-width="0.12">NKG2C+FcεR1γ</text>
<text x="503.99" y="442.1" font-size="7.5" font-weight="normal" fill="#1a1a1a" textLength="4.82" lengthAdjust="spacingAndGlyphs" stroke="#1a1a1a" stroke-width="0.12">+</text>
<rect x="412.4" y="452.59999999999997" width="14" height="7.0" fill="#30268f"/>
<text x="429.59" y="458.6" font-size="9.1" font-weight="normal" fill="#1a1a1a" textLength="74.35" lengthAdjust="spacingAndGlyphs" stroke="#1a1a1a" stroke-width="0.12">NKG2C+FcεR1γ</text>
<text x="504.03" y="455.6" font-size="7.5" font-weight="normal" fill="#1a1a1a" textLength="4.33" lengthAdjust="spacingAndGlyphs" stroke="#1a1a1a" stroke-width="0.12">−</text>
<rect x="0.5" y="0.5" width="519" height="471" fill="none" stroke="#000" stroke-width="1.2"/>
</svg>
</body></html>
